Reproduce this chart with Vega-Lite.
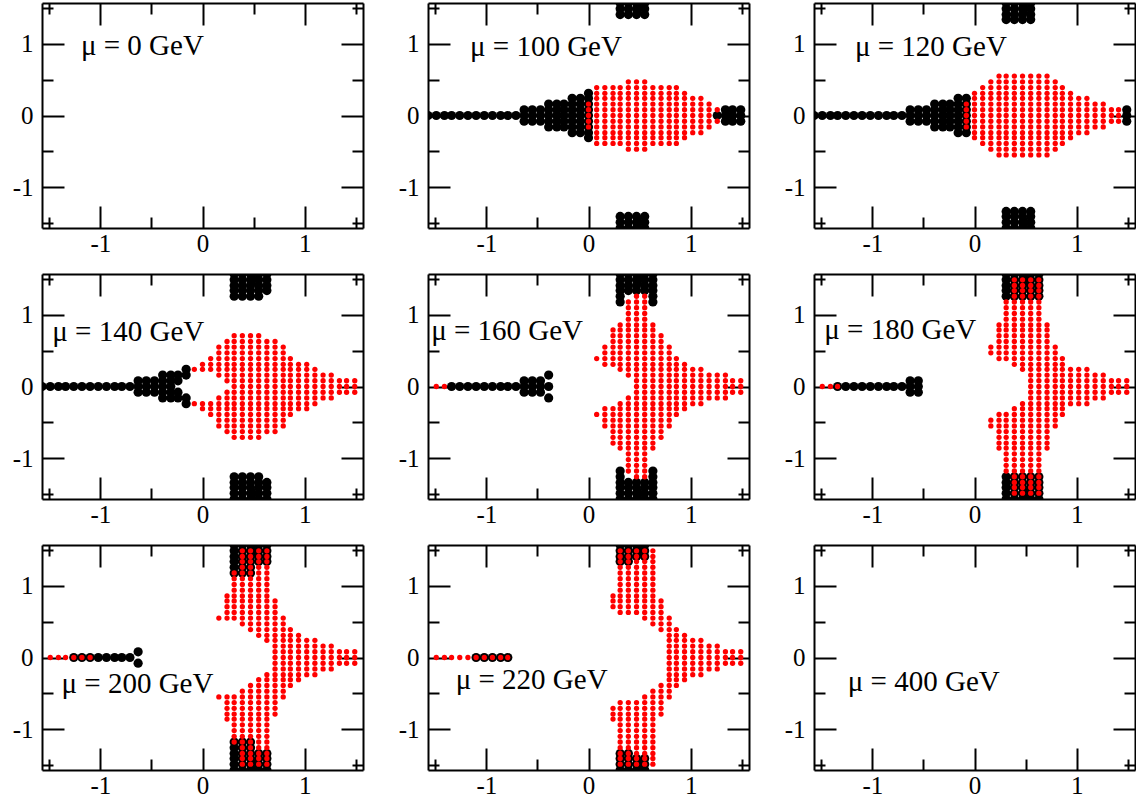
{
"$schema":"https://vega.github.io/schema/vega-lite/v6.json",
"padding":{"left":12,"top":2,"right":0,"bottom":0},
"background":"white",
"config":{"view":{"stroke":null},"axis":{"domainColor":"black","domainWidth":2,"tickColor":"black","tickWidth":2,"tickSize":-22,"grid":false,"labelFont":"Liberation Serif","labelFontSize":25,"labelColor":"black","labelFlush":false,"labelOverlap":false,"labelBound":false}},
"datasets":{
"e":[],
"b100":[{"x":-1.57,"y":0},{"x":-1.49,"y":0},{"x":-1.41,"y":0},{"x":-1.34,"y":0},{"x":-1.26,"y":0},{"x":-1.18,"y":0},{"x":-1.1,"y":0},{"x":-1.02,"y":0},{"x":-0.94,"y":0},{"x":-0.86,"y":0},{"x":-0.79,"y":0},{"x":-0.71,"y":0},
{"x":-0.63,"y":-0.08},{"x":-0.63,"y":0},{"x":-0.63,"y":0.08},{"x":-0.55,"y":-0.08},{"x":-0.55,"y":0},{"x":-0.55,"y":0.08},{"x":-0.47,"y":-0.08},{"x":-0.47,"y":0},{"x":-0.47,"y":0.08},
{"x":-0.39,"y":-0.16},{"x":-0.39,"y":-0.08},{"x":-0.39,"y":0},{"x":-0.39,"y":0.08},{"x":-0.39,"y":0.16},
{"x":-0.31,"y":-0.16},{"x":-0.31,"y":-0.08},{"x":-0.31,"y":0},{"x":-0.31,"y":0.08},{"x":-0.31,"y":0.16},
{"x":-0.24,"y":-0.16},{"x":-0.24,"y":-0.08},{"x":-0.24,"y":0},{"x":-0.24,"y":0.08},{"x":-0.24,"y":0.16},
{"x":-0.16,"y":-0.24},{"x":-0.16,"y":-0.16},{"x":-0.16,"y":-0.08},{"x":-0.16,"y":0},{"x":-0.16,"y":0.08},{"x":-0.16,"y":0.16},{"x":-0.16,"y":0.24},
{"x":-0.08,"y":-0.24},{"x":-0.08,"y":-0.16},{"x":-0.08,"y":-0.08},{"x":-0.08,"y":0},{"x":-0.08,"y":0.08},{"x":-0.08,"y":0.16},{"x":-0.08,"y":0.24},
{"x":0,"y":-0.31},{"x":0,"y":-0.24},{"x":0,"y":-0.16},{"x":0,"y":-0.08},{"x":0,"y":0},{"x":0,"y":0.08},{"x":0,"y":0.16},{"x":0,"y":0.24},{"x":0,"y":0.31},
{"x":1.26,"y":0},{"x":1.34,"y":-0.08},{"x":1.34,"y":0},{"x":1.34,"y":0.08},{"x":1.41,"y":-0.08},{"x":1.41,"y":0},{"x":1.41,"y":0.08},{"x":1.49,"y":-0.08},{"x":1.49,"y":0},{"x":1.49,"y":0.08},
{"x":0.31,"y":1.41},{"x":0.31,"y":1.49},{"x":0.31,"y":1.57},{"x":0.31,"y":-1.41},{"x":0.31,"y":-1.49},{"x":0.31,"y":-1.57},
{"x":0.39,"y":1.41},{"x":0.39,"y":1.49},{"x":0.39,"y":1.57},{"x":0.39,"y":-1.41},{"x":0.39,"y":-1.49},{"x":0.39,"y":-1.57},
{"x":0.47,"y":1.41},{"x":0.47,"y":1.49},{"x":0.47,"y":1.57},{"x":0.47,"y":-1.41},{"x":0.47,"y":-1.49},{"x":0.47,"y":-1.57},
{"x":0.55,"y":1.41},{"x":0.55,"y":1.49},{"x":0.55,"y":1.57},{"x":0.55,"y":-1.41},{"x":0.55,"y":-1.49},{"x":0.55,"y":-1.57}],
"r100":[{"x":0,"y":-0.16},{"x":0,"y":-0.08},{"x":0,"y":0},{"x":0,"y":0.08},{"x":0,"y":0.16},
{"x":0.08,"y":-0.39},{"x":0.08,"y":-0.31},{"x":0.08,"y":-0.24},{"x":0.08,"y":-0.16},{"x":0.08,"y":-0.08},{"x":0.08,"y":0},{"x":0.08,"y":0.08},{"x":0.08,"y":0.16},{"x":0.08,"y":0.24},{"x":0.08,"y":0.31},{"x":0.08,"y":0.39},
{"x":0.16,"y":-0.39},{"x":0.16,"y":-0.31},{"x":0.16,"y":-0.24},{"x":0.16,"y":-0.16},{"x":0.16,"y":-0.08},{"x":0.16,"y":0},{"x":0.16,"y":0.08},{"x":0.16,"y":0.16},{"x":0.16,"y":0.24},{"x":0.16,"y":0.31},{"x":0.16,"y":0.39},
{"x":0.24,"y":-0.39},{"x":0.24,"y":-0.31},{"x":0.24,"y":-0.24},{"x":0.24,"y":-0.16},{"x":0.24,"y":-0.08},{"x":0.24,"y":0},{"x":0.24,"y":0.08},{"x":0.24,"y":0.16},{"x":0.24,"y":0.24},{"x":0.24,"y":0.31},{"x":0.24,"y":0.39},
{"x":0.31,"y":-0.39},{"x":0.31,"y":-0.31},{"x":0.31,"y":-0.24},{"x":0.31,"y":-0.16},{"x":0.31,"y":-0.08},{"x":0.31,"y":0},{"x":0.31,"y":0.08},{"x":0.31,"y":0.16},{"x":0.31,"y":0.24},{"x":0.31,"y":0.31},{"x":0.31,"y":0.39},
{"x":0.39,"y":-0.47},{"x":0.39,"y":-0.39},{"x":0.39,"y":-0.31},{"x":0.39,"y":-0.24},{"x":0.39,"y":-0.16},{"x":0.39,"y":-0.08},{"x":0.39,"y":0},{"x":0.39,"y":0.08},{"x":0.39,"y":0.16},{"x":0.39,"y":0.24},{"x":0.39,"y":0.31},{"x":0.39,"y":0.39},{"x":0.39,"y":0.47},
{"x":0.47,"y":-0.47},{"x":0.47,"y":-0.39},{"x":0.47,"y":-0.31},{"x":0.47,"y":-0.24},{"x":0.47,"y":-0.16},{"x":0.47,"y":-0.08},{"x":0.47,"y":0},{"x":0.47,"y":0.08},{"x":0.47,"y":0.16},{"x":0.47,"y":0.24},{"x":0.47,"y":0.31},{"x":0.47,"y":0.39},{"x":0.47,"y":0.47},
{"x":0.55,"y":-0.47},{"x":0.55,"y":-0.39},{"x":0.55,"y":-0.31},{"x":0.55,"y":-0.24},{"x":0.55,"y":-0.16},{"x":0.55,"y":-0.08},{"x":0.55,"y":0},{"x":0.55,"y":0.08},{"x":0.55,"y":0.16},{"x":0.55,"y":0.24},{"x":0.55,"y":0.31},{"x":0.55,"y":0.39},{"x":0.55,"y":0.47},
{"x":0.63,"y":-0.39},{"x":0.63,"y":-0.31},{"x":0.63,"y":-0.24},{"x":0.63,"y":-0.16},{"x":0.63,"y":-0.08},{"x":0.63,"y":0},{"x":0.63,"y":0.08},{"x":0.63,"y":0.16},{"x":0.63,"y":0.24},{"x":0.63,"y":0.31},{"x":0.63,"y":0.39},
{"x":0.71,"y":-0.39},{"x":0.71,"y":-0.31},{"x":0.71,"y":-0.24},{"x":0.71,"y":-0.16},{"x":0.71,"y":-0.08},{"x":0.71,"y":0},{"x":0.71,"y":0.08},{"x":0.71,"y":0.16},{"x":0.71,"y":0.24},{"x":0.71,"y":0.31},{"x":0.71,"y":0.39},
{"x":0.79,"y":-0.39},{"x":0.79,"y":-0.31},{"x":0.79,"y":-0.24},{"x":0.79,"y":-0.16},{"x":0.79,"y":-0.08},{"x":0.79,"y":0},{"x":0.79,"y":0.08},{"x":0.79,"y":0.16},{"x":0.79,"y":0.24},{"x":0.79,"y":0.31},{"x":0.79,"y":0.39},
{"x":0.86,"y":-0.39},{"x":0.86,"y":-0.31},{"x":0.86,"y":-0.24},{"x":0.86,"y":-0.16},{"x":0.86,"y":-0.08},{"x":0.86,"y":0},{"x":0.86,"y":0.08},{"x":0.86,"y":0.16},{"x":0.86,"y":0.24},{"x":0.86,"y":0.31},{"x":0.86,"y":0.39},
{"x":0.94,"y":-0.31},{"x":0.94,"y":-0.24},{"x":0.94,"y":-0.16},{"x":0.94,"y":-0.08},{"x":0.94,"y":0},{"x":0.94,"y":0.08},{"x":0.94,"y":0.16},{"x":0.94,"y":0.24},{"x":0.94,"y":0.31},
{"x":1.02,"y":-0.24},{"x":1.02,"y":-0.16},{"x":1.02,"y":-0.08},{"x":1.02,"y":0},{"x":1.02,"y":0.08},{"x":1.02,"y":0.16},{"x":1.02,"y":0.24},
{"x":1.1,"y":-0.24},{"x":1.1,"y":-0.16},{"x":1.1,"y":-0.08},{"x":1.1,"y":0},{"x":1.1,"y":0.08},{"x":1.1,"y":0.16},{"x":1.1,"y":0.24},
{"x":1.18,"y":-0.16},{"x":1.18,"y":-0.08},{"x":1.18,"y":0},{"x":1.18,"y":0.08},{"x":1.18,"y":0.16},
{"x":1.26,"y":-0.08},{"x":1.26,"y":0.08}],
"b120":[{"x":-1.57,"y":0},{"x":-1.49,"y":0},{"x":-1.41,"y":0},{"x":-1.34,"y":0},{"x":-1.26,"y":0},{"x":-1.18,"y":0},{"x":-1.1,"y":0},{"x":-1.02,"y":0},{"x":-0.94,"y":0},{"x":-0.86,"y":0},{"x":-0.79,"y":0},{"x":-0.71,"y":0},
{"x":-0.63,"y":-0.08},{"x":-0.63,"y":0},{"x":-0.63,"y":0.08},{"x":-0.55,"y":-0.08},{"x":-0.55,"y":0},{"x":-0.55,"y":0.08},{"x":-0.47,"y":-0.08},{"x":-0.47,"y":0},{"x":-0.47,"y":0.08},
{"x":-0.39,"y":-0.16},{"x":-0.39,"y":-0.08},{"x":-0.39,"y":0},{"x":-0.39,"y":0.08},{"x":-0.39,"y":0.16},
{"x":-0.31,"y":-0.16},{"x":-0.31,"y":-0.08},{"x":-0.31,"y":0},{"x":-0.31,"y":0.08},{"x":-0.31,"y":0.16},
{"x":-0.24,"y":-0.16},{"x":-0.24,"y":-0.08},{"x":-0.24,"y":0},{"x":-0.24,"y":0.08},{"x":-0.24,"y":0.16},
{"x":-0.16,"y":-0.24},{"x":-0.16,"y":-0.16},{"x":-0.16,"y":-0.08},{"x":-0.16,"y":0},{"x":-0.16,"y":0.08},{"x":-0.16,"y":0.16},{"x":-0.16,"y":0.24},
{"x":-0.08,"y":-0.24},{"x":-0.08,"y":-0.16},{"x":-0.08,"y":-0.08},{"x":-0.08,"y":0},{"x":-0.08,"y":0.08},{"x":-0.08,"y":0.16},{"x":-0.08,"y":0.24},
{"x":1.49,"y":-0.08},{"x":1.49,"y":0},{"x":1.49,"y":0.08},
{"x":0.31,"y":1.34},{"x":0.31,"y":1.41},{"x":0.31,"y":1.49},{"x":0.31,"y":1.57},{"x":0.31,"y":-1.34},{"x":0.31,"y":-1.41},{"x":0.31,"y":-1.49},{"x":0.31,"y":-1.57},
{"x":0.39,"y":1.34},{"x":0.39,"y":1.41},{"x":0.39,"y":1.49},{"x":0.39,"y":1.57},{"x":0.39,"y":-1.34},{"x":0.39,"y":-1.41},{"x":0.39,"y":-1.49},{"x":0.39,"y":-1.57},
{"x":0.47,"y":1.34},{"x":0.47,"y":1.41},{"x":0.47,"y":1.49},{"x":0.47,"y":1.57},{"x":0.47,"y":-1.34},{"x":0.47,"y":-1.41},{"x":0.47,"y":-1.49},{"x":0.47,"y":-1.57},
{"x":0.55,"y":1.34},{"x":0.55,"y":1.41},{"x":0.55,"y":1.49},{"x":0.55,"y":1.57},{"x":0.55,"y":-1.34},{"x":0.55,"y":-1.41},{"x":0.55,"y":-1.49},{"x":0.55,"y":-1.57}],
"r120":[{"x":-0.08,"y":-0.16},{"x":-0.08,"y":-0.08},{"x":-0.08,"y":0},{"x":-0.08,"y":0.08},{"x":-0.08,"y":0.16},
{"x":0,"y":-0.31},{"x":0,"y":-0.24},{"x":0,"y":-0.16},{"x":0,"y":-0.08},{"x":0,"y":0},{"x":0,"y":0.08},{"x":0,"y":0.16},{"x":0,"y":0.24},{"x":0,"y":0.31},
{"x":0.08,"y":-0.39},{"x":0.08,"y":-0.31},{"x":0.08,"y":-0.24},{"x":0.08,"y":-0.16},{"x":0.08,"y":-0.08},{"x":0.08,"y":0},{"x":0.08,"y":0.08},{"x":0.08,"y":0.16},{"x":0.08,"y":0.24},{"x":0.08,"y":0.31},{"x":0.08,"y":0.39},
{"x":0.16,"y":-0.47},{"x":0.16,"y":-0.39},{"x":0.16,"y":-0.31},{"x":0.16,"y":-0.24},{"x":0.16,"y":-0.16},{"x":0.16,"y":-0.08},{"x":0.16,"y":0},{"x":0.16,"y":0.08},{"x":0.16,"y":0.16},{"x":0.16,"y":0.24},{"x":0.16,"y":0.31},{"x":0.16,"y":0.39},{"x":0.16,"y":0.47},
{"x":0.24,"y":-0.55},{"x":0.24,"y":-0.47},{"x":0.24,"y":-0.39},{"x":0.24,"y":-0.31},{"x":0.24,"y":-0.24},{"x":0.24,"y":-0.16},{"x":0.24,"y":-0.08},{"x":0.24,"y":0},{"x":0.24,"y":0.08},{"x":0.24,"y":0.16},{"x":0.24,"y":0.24},{"x":0.24,"y":0.31},{"x":0.24,"y":0.39},{"x":0.24,"y":0.47},{"x":0.24,"y":0.55},
{"x":0.31,"y":-0.55},{"x":0.31,"y":-0.47},{"x":0.31,"y":-0.39},{"x":0.31,"y":-0.31},{"x":0.31,"y":-0.24},{"x":0.31,"y":-0.16},{"x":0.31,"y":-0.08},{"x":0.31,"y":0},{"x":0.31,"y":0.08},{"x":0.31,"y":0.16},{"x":0.31,"y":0.24},{"x":0.31,"y":0.31},{"x":0.31,"y":0.39},{"x":0.31,"y":0.47},{"x":0.31,"y":0.55},
{"x":0.39,"y":-0.55},{"x":0.39,"y":-0.47},{"x":0.39,"y":-0.39},{"x":0.39,"y":-0.31},{"x":0.39,"y":-0.24},{"x":0.39,"y":-0.16},{"x":0.39,"y":-0.08},{"x":0.39,"y":0},{"x":0.39,"y":0.08},{"x":0.39,"y":0.16},{"x":0.39,"y":0.24},{"x":0.39,"y":0.31},{"x":0.39,"y":0.39},{"x":0.39,"y":0.47},{"x":0.39,"y":0.55},
{"x":0.47,"y":-0.55},{"x":0.47,"y":-0.47},{"x":0.47,"y":-0.39},{"x":0.47,"y":-0.31},{"x":0.47,"y":-0.24},{"x":0.47,"y":-0.16},{"x":0.47,"y":-0.08},{"x":0.47,"y":0},{"x":0.47,"y":0.08},{"x":0.47,"y":0.16},{"x":0.47,"y":0.24},{"x":0.47,"y":0.31},{"x":0.47,"y":0.39},{"x":0.47,"y":0.47},{"x":0.47,"y":0.55},
{"x":0.55,"y":-0.55},{"x":0.55,"y":-0.47},{"x":0.55,"y":-0.39},{"x":0.55,"y":-0.31},{"x":0.55,"y":-0.24},{"x":0.55,"y":-0.16},{"x":0.55,"y":-0.08},{"x":0.55,"y":0},{"x":0.55,"y":0.08},{"x":0.55,"y":0.16},{"x":0.55,"y":0.24},{"x":0.55,"y":0.31},{"x":0.55,"y":0.39},{"x":0.55,"y":0.47},{"x":0.55,"y":0.55},
{"x":0.63,"y":-0.55},{"x":0.63,"y":-0.47},{"x":0.63,"y":-0.39},{"x":0.63,"y":-0.31},{"x":0.63,"y":-0.24},{"x":0.63,"y":-0.16},{"x":0.63,"y":-0.08},{"x":0.63,"y":0},{"x":0.63,"y":0.08},{"x":0.63,"y":0.16},{"x":0.63,"y":0.24},{"x":0.63,"y":0.31},{"x":0.63,"y":0.39},{"x":0.63,"y":0.47},{"x":0.63,"y":0.55},
{"x":0.71,"y":-0.55},{"x":0.71,"y":-0.47},{"x":0.71,"y":-0.39},{"x":0.71,"y":-0.31},{"x":0.71,"y":-0.24},{"x":0.71,"y":-0.16},{"x":0.71,"y":-0.08},{"x":0.71,"y":0},{"x":0.71,"y":0.08},{"x":0.71,"y":0.16},{"x":0.71,"y":0.24},{"x":0.71,"y":0.31},{"x":0.71,"y":0.39},{"x":0.71,"y":0.47},{"x":0.71,"y":0.55},
{"x":0.79,"y":-0.47},{"x":0.79,"y":-0.39},{"x":0.79,"y":-0.31},{"x":0.79,"y":-0.24},{"x":0.79,"y":-0.16},{"x":0.79,"y":-0.08},{"x":0.79,"y":0},{"x":0.79,"y":0.08},{"x":0.79,"y":0.16},{"x":0.79,"y":0.24},{"x":0.79,"y":0.31},{"x":0.79,"y":0.39},{"x":0.79,"y":0.47},
{"x":0.86,"y":-0.39},{"x":0.86,"y":-0.31},{"x":0.86,"y":-0.24},{"x":0.86,"y":-0.16},{"x":0.86,"y":-0.08},{"x":0.86,"y":0},{"x":0.86,"y":0.08},{"x":0.86,"y":0.16},{"x":0.86,"y":0.24},{"x":0.86,"y":0.31},{"x":0.86,"y":0.39},
{"x":0.94,"y":-0.31},{"x":0.94,"y":-0.24},{"x":0.94,"y":-0.16},{"x":0.94,"y":-0.08},{"x":0.94,"y":0},{"x":0.94,"y":0.08},{"x":0.94,"y":0.16},{"x":0.94,"y":0.24},{"x":0.94,"y":0.31},
{"x":1.02,"y":-0.24},{"x":1.02,"y":-0.16},{"x":1.02,"y":-0.08},{"x":1.02,"y":0},{"x":1.02,"y":0.08},{"x":1.02,"y":0.16},{"x":1.02,"y":0.24},
{"x":1.1,"y":-0.24},{"x":1.1,"y":-0.16},{"x":1.1,"y":-0.08},{"x":1.1,"y":0},{"x":1.1,"y":0.08},{"x":1.1,"y":0.16},{"x":1.1,"y":0.24},
{"x":1.18,"y":-0.16},{"x":1.18,"y":-0.08},{"x":1.18,"y":0},{"x":1.18,"y":0.08},{"x":1.18,"y":0.16},
{"x":1.26,"y":-0.16},{"x":1.26,"y":-0.08},{"x":1.26,"y":0},{"x":1.26,"y":0.08},{"x":1.26,"y":0.16},
{"x":1.34,"y":-0.08},{"x":1.34,"y":0},{"x":1.34,"y":0.08},{"x":1.41,"y":-0.08},{"x":1.41,"y":0},{"x":1.41,"y":0.08}],
"b140":[{"x":-1.57,"y":0},{"x":-1.49,"y":0},{"x":-1.41,"y":0},{"x":-1.34,"y":0},{"x":-1.26,"y":0},{"x":-1.18,"y":0},{"x":-1.1,"y":0},{"x":-1.02,"y":0},{"x":-0.94,"y":0},{"x":-0.86,"y":0},{"x":-0.79,"y":0},{"x":-0.71,"y":0},
{"x":-0.63,"y":-0.08},{"x":-0.63,"y":0},{"x":-0.63,"y":0.08},{"x":-0.55,"y":-0.08},{"x":-0.55,"y":0},{"x":-0.55,"y":0.08},{"x":-0.47,"y":-0.08},{"x":-0.47,"y":0},{"x":-0.47,"y":0.08},
{"x":-0.39,"y":-0.16},{"x":-0.39,"y":-0.08},{"x":-0.39,"y":0},{"x":-0.39,"y":0.08},{"x":-0.39,"y":0.16},
{"x":-0.31,"y":-0.16},{"x":-0.31,"y":-0.08},{"x":-0.31,"y":0},{"x":-0.31,"y":0.08},{"x":-0.31,"y":0.16},
{"x":-0.24,"y":-0.16},{"x":-0.24,"y":-0.08},{"x":-0.24,"y":0.08},{"x":-0.24,"y":0.16},
{"x":-0.16,"y":-0.24},{"x":-0.16,"y":-0.16},{"x":-0.16,"y":0.16},{"x":-0.16,"y":0.24},
{"x":0.31,"y":1.26},{"x":0.31,"y":1.34},{"x":0.31,"y":1.41},{"x":0.31,"y":1.49},{"x":0.31,"y":1.57},{"x":0.31,"y":-1.26},{"x":0.31,"y":-1.34},{"x":0.31,"y":-1.41},{"x":0.31,"y":-1.49},{"x":0.31,"y":-1.57},
{"x":0.39,"y":1.26},{"x":0.39,"y":1.34},{"x":0.39,"y":1.41},{"x":0.39,"y":1.49},{"x":0.39,"y":1.57},{"x":0.39,"y":-1.26},{"x":0.39,"y":-1.34},{"x":0.39,"y":-1.41},{"x":0.39,"y":-1.49},{"x":0.39,"y":-1.57},
{"x":0.47,"y":1.26},{"x":0.47,"y":1.34},{"x":0.47,"y":1.41},{"x":0.47,"y":1.49},{"x":0.47,"y":1.57},{"x":0.47,"y":-1.26},{"x":0.47,"y":-1.34},{"x":0.47,"y":-1.41},{"x":0.47,"y":-1.49},{"x":0.47,"y":-1.57},
{"x":0.55,"y":1.26},{"x":0.55,"y":1.34},{"x":0.55,"y":1.41},{"x":0.55,"y":1.49},{"x":0.55,"y":1.57},{"x":0.55,"y":-1.26},{"x":0.55,"y":-1.34},{"x":0.55,"y":-1.41},{"x":0.55,"y":-1.49},{"x":0.55,"y":-1.57},
{"x":0.63,"y":1.34},{"x":0.63,"y":1.41},{"x":0.63,"y":1.49},{"x":0.63,"y":1.57},{"x":0.63,"y":-1.34},{"x":0.63,"y":-1.41},{"x":0.63,"y":-1.49},{"x":0.63,"y":-1.57}],
"r140":[{"x":-0.08,"y":-0.24},{"x":-0.08,"y":0.24},
{"x":0,"y":-0.31},{"x":0,"y":-0.24},{"x":0,"y":0.24},{"x":0,"y":0.31},
{"x":0.08,"y":-0.39},{"x":0.08,"y":-0.31},{"x":0.08,"y":-0.24},{"x":0.08,"y":0.24},{"x":0.08,"y":0.31},{"x":0.08,"y":0.39},
{"x":0.16,"y":-0.55},{"x":0.16,"y":-0.47},{"x":0.16,"y":-0.39},{"x":0.16,"y":-0.31},{"x":0.16,"y":-0.24},{"x":0.16,"y":-0.16},{"x":0.16,"y":0.16},{"x":0.16,"y":0.24},{"x":0.16,"y":0.31},{"x":0.16,"y":0.39},{"x":0.16,"y":0.47},{"x":0.16,"y":0.55},
{"x":0.24,"y":-0.63},{"x":0.24,"y":-0.55},{"x":0.24,"y":-0.47},{"x":0.24,"y":-0.39},{"x":0.24,"y":-0.31},{"x":0.24,"y":-0.24},{"x":0.24,"y":-0.16},{"x":0.24,"y":-0.08},{"x":0.24,"y":0.08},{"x":0.24,"y":0.16},{"x":0.24,"y":0.24},{"x":0.24,"y":0.31},{"x":0.24,"y":0.39},{"x":0.24,"y":0.47},{"x":0.24,"y":0.55},{"x":0.24,"y":0.63},
{"x":0.31,"y":-0.71},{"x":0.31,"y":-0.63},{"x":0.31,"y":-0.55},{"x":0.31,"y":-0.47},{"x":0.31,"y":-0.39},{"x":0.31,"y":-0.31},{"x":0.31,"y":-0.24},{"x":0.31,"y":-0.16},{"x":0.31,"y":-0.08},{"x":0.31,"y":0},{"x":0.31,"y":0.08},{"x":0.31,"y":0.16},{"x":0.31,"y":0.24},{"x":0.31,"y":0.31},{"x":0.31,"y":0.39},{"x":0.31,"y":0.47},{"x":0.31,"y":0.55},{"x":0.31,"y":0.63},{"x":0.31,"y":0.71},
{"x":0.39,"y":-0.71},{"x":0.39,"y":-0.63},{"x":0.39,"y":-0.55},{"x":0.39,"y":-0.47},{"x":0.39,"y":-0.39},{"x":0.39,"y":-0.31},{"x":0.39,"y":-0.24},{"x":0.39,"y":-0.16},{"x":0.39,"y":-0.08},{"x":0.39,"y":0},{"x":0.39,"y":0.08},{"x":0.39,"y":0.16},{"x":0.39,"y":0.24},{"x":0.39,"y":0.31},{"x":0.39,"y":0.39},{"x":0.39,"y":0.47},{"x":0.39,"y":0.55},{"x":0.39,"y":0.63},{"x":0.39,"y":0.71},
{"x":0.47,"y":-0.71},{"x":0.47,"y":-0.63},{"x":0.47,"y":-0.55},{"x":0.47,"y":-0.47},{"x":0.47,"y":-0.39},{"x":0.47,"y":-0.31},{"x":0.47,"y":-0.24},{"x":0.47,"y":-0.16},{"x":0.47,"y":-0.08},{"x":0.47,"y":0},{"x":0.47,"y":0.08},{"x":0.47,"y":0.16},{"x":0.47,"y":0.24},{"x":0.47,"y":0.31},{"x":0.47,"y":0.39},{"x":0.47,"y":0.47},{"x":0.47,"y":0.55},{"x":0.47,"y":0.63},{"x":0.47,"y":0.71},
{"x":0.55,"y":-0.71},{"x":0.55,"y":-0.63},{"x":0.55,"y":-0.55},{"x":0.55,"y":-0.47},{"x":0.55,"y":-0.39},{"x":0.55,"y":-0.31},{"x":0.55,"y":-0.24},{"x":0.55,"y":-0.16},{"x":0.55,"y":-0.08},{"x":0.55,"y":0},{"x":0.55,"y":0.08},{"x":0.55,"y":0.16},{"x":0.55,"y":0.24},{"x":0.55,"y":0.31},{"x":0.55,"y":0.39},{"x":0.55,"y":0.47},{"x":0.55,"y":0.55},{"x":0.55,"y":0.63},{"x":0.55,"y":0.71},
{"x":0.63,"y":-0.63},{"x":0.63,"y":-0.55},{"x":0.63,"y":-0.47},{"x":0.63,"y":-0.39},{"x":0.63,"y":-0.31},{"x":0.63,"y":-0.24},{"x":0.63,"y":-0.16},{"x":0.63,"y":-0.08},{"x":0.63,"y":0},{"x":0.63,"y":0.08},{"x":0.63,"y":0.16},{"x":0.63,"y":0.24},{"x":0.63,"y":0.31},{"x":0.63,"y":0.39},{"x":0.63,"y":0.47},{"x":0.63,"y":0.55},{"x":0.63,"y":0.63},
{"x":0.71,"y":-0.63},{"x":0.71,"y":-0.55},{"x":0.71,"y":-0.47},{"x":0.71,"y":-0.39},{"x":0.71,"y":-0.31},{"x":0.71,"y":-0.24},{"x":0.71,"y":-0.16},{"x":0.71,"y":-0.08},{"x":0.71,"y":0},{"x":0.71,"y":0.08},{"x":0.71,"y":0.16},{"x":0.71,"y":0.24},{"x":0.71,"y":0.31},{"x":0.71,"y":0.39},{"x":0.71,"y":0.47},{"x":0.71,"y":0.55},{"x":0.71,"y":0.63},
{"x":0.79,"y":-0.55},{"x":0.79,"y":-0.47},{"x":0.79,"y":-0.39},{"x":0.79,"y":-0.31},{"x":0.79,"y":-0.24},{"x":0.79,"y":-0.16},{"x":0.79,"y":-0.08},{"x":0.79,"y":0},{"x":0.79,"y":0.08},{"x":0.79,"y":0.16},{"x":0.79,"y":0.24},{"x":0.79,"y":0.31},{"x":0.79,"y":0.39},{"x":0.79,"y":0.47},{"x":0.79,"y":0.55},
{"x":0.86,"y":-0.39},{"x":0.86,"y":-0.31},{"x":0.86,"y":-0.24},{"x":0.86,"y":-0.16},{"x":0.86,"y":-0.08},{"x":0.86,"y":0},{"x":0.86,"y":0.08},{"x":0.86,"y":0.16},{"x":0.86,"y":0.24},{"x":0.86,"y":0.31},{"x":0.86,"y":0.39},
{"x":0.94,"y":-0.31},{"x":0.94,"y":-0.24},{"x":0.94,"y":-0.16},{"x":0.94,"y":-0.08},{"x":0.94,"y":0},{"x":0.94,"y":0.08},{"x":0.94,"y":0.16},{"x":0.94,"y":0.24},{"x":0.94,"y":0.31},
{"x":1.02,"y":-0.31},{"x":1.02,"y":-0.24},{"x":1.02,"y":-0.16},{"x":1.02,"y":-0.08},{"x":1.02,"y":0},{"x":1.02,"y":0.08},{"x":1.02,"y":0.16},{"x":1.02,"y":0.24},{"x":1.02,"y":0.31},
{"x":1.1,"y":-0.24},{"x":1.1,"y":-0.16},{"x":1.1,"y":-0.08},{"x":1.1,"y":0},{"x":1.1,"y":0.08},{"x":1.1,"y":0.16},{"x":1.1,"y":0.24},
{"x":1.18,"y":-0.16},{"x":1.18,"y":-0.08},{"x":1.18,"y":0},{"x":1.18,"y":0.08},{"x":1.18,"y":0.16},
{"x":1.26,"y":-0.16},{"x":1.26,"y":-0.08},{"x":1.26,"y":0},{"x":1.26,"y":0.08},{"x":1.26,"y":0.16},
{"x":1.34,"y":-0.08},{"x":1.34,"y":0},{"x":1.34,"y":0.08},{"x":1.41,"y":-0.08},{"x":1.41,"y":0},{"x":1.41,"y":0.08},{"x":1.49,"y":-0.08},{"x":1.49,"y":0},{"x":1.49,"y":0.08}],
"b160":[{"x":-1.34,"y":0},{"x":-1.26,"y":0},{"x":-1.18,"y":0},{"x":-1.1,"y":0},{"x":-1.02,"y":0},{"x":-0.94,"y":0},{"x":-0.86,"y":0},{"x":-0.79,"y":0},{"x":-0.71,"y":0},{"x":-0.63,"y":0},{"x":-0.55,"y":0},{"x":-0.47,"y":0},{"x":-0.39,"y":0},
{"x":-0.63,"y":-0.08},{"x":-0.63,"y":0.08},{"x":-0.55,"y":-0.08},{"x":-0.55,"y":0.08},{"x":-0.47,"y":-0.08},{"x":-0.47,"y":0.08},{"x":-0.39,"y":-0.16},{"x":-0.39,"y":0.16},
{"x":0.31,"y":1.18},{"x":0.31,"y":1.26},{"x":0.31,"y":1.34},{"x":0.31,"y":1.41},{"x":0.31,"y":1.49},{"x":0.31,"y":1.57},{"x":0.31,"y":-1.18},{"x":0.31,"y":-1.26},{"x":0.31,"y":-1.34},{"x":0.31,"y":-1.41},{"x":0.31,"y":-1.49},{"x":0.31,"y":-1.57},
{"x":0.63,"y":1.18},{"x":0.63,"y":1.26},{"x":0.63,"y":1.34},{"x":0.63,"y":1.41},{"x":0.63,"y":1.49},{"x":0.63,"y":1.57},{"x":0.63,"y":-1.18},{"x":0.63,"y":-1.26},{"x":0.63,"y":-1.34},{"x":0.63,"y":-1.41},{"x":0.63,"y":-1.49},{"x":0.63,"y":-1.57},
{"x":0.39,"y":1.34},{"x":0.39,"y":1.41},{"x":0.39,"y":1.49},{"x":0.39,"y":1.57},{"x":0.39,"y":-1.34},{"x":0.39,"y":-1.41},{"x":0.39,"y":-1.49},{"x":0.39,"y":-1.57},
{"x":0.47,"y":1.34},{"x":0.47,"y":1.41},{"x":0.47,"y":1.49},{"x":0.47,"y":1.57},{"x":0.47,"y":-1.34},{"x":0.47,"y":-1.41},{"x":0.47,"y":-1.49},{"x":0.47,"y":-1.57},
{"x":0.55,"y":1.34},{"x":0.55,"y":1.41},{"x":0.55,"y":1.49},{"x":0.55,"y":1.57},{"x":0.55,"y":-1.34},{"x":0.55,"y":-1.41},{"x":0.55,"y":-1.49},{"x":0.55,"y":-1.57}],
"r160":[{"x":-1.49,"y":0},{"x":-1.41,"y":0},
{"x":0.08,"y":-0.39},{"x":0.08,"y":0.39},
{"x":0.16,"y":-0.55},{"x":0.16,"y":-0.47},{"x":0.16,"y":-0.39},{"x":0.16,"y":-0.31},{"x":0.16,"y":0.31},{"x":0.16,"y":0.39},{"x":0.16,"y":0.47},{"x":0.16,"y":0.55},
{"x":0.24,"y":-0.79},{"x":0.24,"y":-0.71},{"x":0.24,"y":-0.63},{"x":0.24,"y":-0.55},{"x":0.24,"y":-0.47},{"x":0.24,"y":-0.39},{"x":0.24,"y":-0.31},{"x":0.24,"y":0.31},{"x":0.24,"y":0.39},{"x":0.24,"y":0.47},{"x":0.24,"y":0.55},{"x":0.24,"y":0.63},{"x":0.24,"y":0.71},{"x":0.24,"y":0.79},
{"x":0.31,"y":-0.86},{"x":0.31,"y":-0.79},{"x":0.31,"y":-0.71},{"x":0.31,"y":-0.63},{"x":0.31,"y":-0.55},{"x":0.31,"y":-0.47},{"x":0.31,"y":-0.39},{"x":0.31,"y":-0.31},{"x":0.31,"y":-0.24},{"x":0.31,"y":0.24},{"x":0.31,"y":0.31},{"x":0.31,"y":0.39},{"x":0.31,"y":0.47},{"x":0.31,"y":0.55},{"x":0.31,"y":0.63},{"x":0.31,"y":0.71},{"x":0.31,"y":0.79},{"x":0.31,"y":0.86},
{"x":0.39,"y":-1.18},{"x":0.39,"y":-1.1},{"x":0.39,"y":-1.02},{"x":0.39,"y":-0.94},{"x":0.39,"y":-0.86},{"x":0.39,"y":-0.79},{"x":0.39,"y":-0.71},{"x":0.39,"y":-0.63},{"x":0.39,"y":-0.55},{"x":0.39,"y":-0.47},{"x":0.39,"y":-0.39},{"x":0.39,"y":-0.31},{"x":0.39,"y":-0.24},{"x":0.39,"y":-0.16},{"x":0.39,"y":0.16},{"x":0.39,"y":0.24},{"x":0.39,"y":0.31},{"x":0.39,"y":0.39},{"x":0.39,"y":0.47},{"x":0.39,"y":0.55},{"x":0.39,"y":0.63},{"x":0.39,"y":0.71},{"x":0.39,"y":0.79},{"x":0.39,"y":0.86},{"x":0.39,"y":0.94},{"x":0.39,"y":1.02},{"x":0.39,"y":1.1},{"x":0.39,"y":1.18},
{"x":0.47,"y":-1.26},{"x":0.47,"y":-1.18},{"x":0.47,"y":-1.1},{"x":0.47,"y":-1.02},{"x":0.47,"y":-0.94},{"x":0.47,"y":-0.86},{"x":0.47,"y":-0.79},{"x":0.47,"y":-0.71},{"x":0.47,"y":-0.63},{"x":0.47,"y":-0.55},{"x":0.47,"y":-0.47},{"x":0.47,"y":-0.39},{"x":0.47,"y":-0.31},{"x":0.47,"y":-0.24},{"x":0.47,"y":-0.16},{"x":0.47,"y":-0.08},{"x":0.47,"y":0},{"x":0.47,"y":0.08},{"x":0.47,"y":0.16},{"x":0.47,"y":0.24},{"x":0.47,"y":0.31},{"x":0.47,"y":0.39},{"x":0.47,"y":0.47},{"x":0.47,"y":0.55},{"x":0.47,"y":0.63},{"x":0.47,"y":0.71},{"x":0.47,"y":0.79},{"x":0.47,"y":0.86},{"x":0.47,"y":0.94},{"x":0.47,"y":1.02},{"x":0.47,"y":1.1},{"x":0.47,"y":1.18},{"x":0.47,"y":1.26},
{"x":0.55,"y":-1.26},{"x":0.55,"y":-1.18},{"x":0.55,"y":-1.1},{"x":0.55,"y":-1.02},{"x":0.55,"y":-0.94},{"x":0.55,"y":-0.86},{"x":0.55,"y":-0.79},{"x":0.55,"y":-0.71},{"x":0.55,"y":-0.63},{"x":0.55,"y":-0.55},{"x":0.55,"y":-0.47},{"x":0.55,"y":-0.39},{"x":0.55,"y":-0.31},{"x":0.55,"y":-0.24},{"x":0.55,"y":-0.16},{"x":0.55,"y":-0.08},{"x":0.55,"y":0},{"x":0.55,"y":0.08},{"x":0.55,"y":0.16},{"x":0.55,"y":0.24},{"x":0.55,"y":0.31},{"x":0.55,"y":0.39},{"x":0.55,"y":0.47},{"x":0.55,"y":0.55},{"x":0.55,"y":0.63},{"x":0.55,"y":0.71},{"x":0.55,"y":0.79},{"x":0.55,"y":0.86},{"x":0.55,"y":0.94},{"x":0.55,"y":1.02},{"x":0.55,"y":1.1},{"x":0.55,"y":1.18},{"x":0.55,"y":1.26},
{"x":0.63,"y":-0.86},{"x":0.63,"y":-0.79},{"x":0.63,"y":-0.71},{"x":0.63,"y":-0.63},{"x":0.63,"y":-0.55},{"x":0.63,"y":-0.47},{"x":0.63,"y":-0.39},{"x":0.63,"y":-0.31},{"x":0.63,"y":-0.24},{"x":0.63,"y":-0.16},{"x":0.63,"y":-0.08},{"x":0.63,"y":0},{"x":0.63,"y":0.08},{"x":0.63,"y":0.16},{"x":0.63,"y":0.24},{"x":0.63,"y":0.31},{"x":0.63,"y":0.39},{"x":0.63,"y":0.47},{"x":0.63,"y":0.55},{"x":0.63,"y":0.63},{"x":0.63,"y":0.71},{"x":0.63,"y":0.79},{"x":0.63,"y":0.86},
{"x":0.71,"y":-0.71},{"x":0.71,"y":-0.63},{"x":0.71,"y":-0.55},{"x":0.71,"y":-0.47},{"x":0.71,"y":-0.39},{"x":0.71,"y":-0.31},{"x":0.71,"y":-0.24},{"x":0.71,"y":-0.16},{"x":0.71,"y":-0.08},{"x":0.71,"y":0},{"x":0.71,"y":0.08},{"x":0.71,"y":0.16},{"x":0.71,"y":0.24},{"x":0.71,"y":0.31},{"x":0.71,"y":0.39},{"x":0.71,"y":0.47},{"x":0.71,"y":0.55},{"x":0.71,"y":0.63},{"x":0.71,"y":0.71},
{"x":0.79,"y":-0.55},{"x":0.79,"y":-0.47},{"x":0.79,"y":-0.39},{"x":0.79,"y":-0.31},{"x":0.79,"y":-0.24},{"x":0.79,"y":-0.16},{"x":0.79,"y":-0.08},{"x":0.79,"y":0},{"x":0.79,"y":0.08},{"x":0.79,"y":0.16},{"x":0.79,"y":0.24},{"x":0.79,"y":0.31},{"x":0.79,"y":0.39},{"x":0.79,"y":0.47},{"x":0.79,"y":0.55},
{"x":0.86,"y":-0.39},{"x":0.86,"y":-0.31},{"x":0.86,"y":-0.24},{"x":0.86,"y":-0.16},{"x":0.86,"y":-0.08},{"x":0.86,"y":0},{"x":0.86,"y":0.08},{"x":0.86,"y":0.16},{"x":0.86,"y":0.24},{"x":0.86,"y":0.31},{"x":0.86,"y":0.39},
{"x":0.94,"y":-0.31},{"x":0.94,"y":-0.24},{"x":0.94,"y":-0.16},{"x":0.94,"y":-0.08},{"x":0.94,"y":0},{"x":0.94,"y":0.08},{"x":0.94,"y":0.16},{"x":0.94,"y":0.24},{"x":0.94,"y":0.31},
{"x":1.02,"y":-0.24},{"x":1.02,"y":-0.16},{"x":1.02,"y":-0.08},{"x":1.02,"y":0},{"x":1.02,"y":0.08},{"x":1.02,"y":0.16},{"x":1.02,"y":0.24},
{"x":1.1,"y":-0.24},{"x":1.1,"y":-0.16},{"x":1.1,"y":-0.08},{"x":1.1,"y":0},{"x":1.1,"y":0.08},{"x":1.1,"y":0.16},{"x":1.1,"y":0.24},
{"x":1.18,"y":-0.16},{"x":1.18,"y":-0.08},{"x":1.18,"y":0},{"x":1.18,"y":0.08},{"x":1.18,"y":0.16},
{"x":1.26,"y":-0.16},{"x":1.26,"y":-0.08},{"x":1.26,"y":0},{"x":1.26,"y":0.08},{"x":1.26,"y":0.16},
{"x":1.34,"y":-0.16},{"x":1.34,"y":-0.08},{"x":1.34,"y":0},{"x":1.34,"y":0.08},{"x":1.34,"y":0.16},
{"x":1.41,"y":-0.08},{"x":1.41,"y":0},{"x":1.41,"y":0.08},{"x":1.49,"y":-0.08},{"x":1.49,"y":0},{"x":1.49,"y":0.08}],
"b180":[{"x":-1.34,"y":0},{"x":-1.26,"y":0},{"x":-1.18,"y":0},{"x":-1.1,"y":0},{"x":-1.02,"y":0},{"x":-0.94,"y":0},{"x":-0.86,"y":0},{"x":-0.79,"y":0},{"x":-0.71,"y":0},{"x":-0.63,"y":0},{"x":-0.55,"y":0},
{"x":-0.63,"y":-0.08},{"x":-0.63,"y":0.08},{"x":-0.55,"y":-0.08},{"x":-0.55,"y":0.08},
{"x":0.31,"y":1.26},{"x":0.31,"y":1.34},{"x":0.31,"y":1.41},{"x":0.31,"y":1.49},{"x":0.31,"y":1.57},{"x":0.31,"y":-1.26},{"x":0.31,"y":-1.34},{"x":0.31,"y":-1.41},{"x":0.31,"y":-1.49},{"x":0.31,"y":-1.57},
{"x":0.39,"y":1.26},{"x":0.39,"y":1.34},{"x":0.39,"y":1.41},{"x":0.39,"y":1.49},{"x":0.39,"y":1.57},{"x":0.39,"y":-1.26},{"x":0.39,"y":-1.34},{"x":0.39,"y":-1.41},{"x":0.39,"y":-1.49},{"x":0.39,"y":-1.57},
{"x":0.47,"y":1.26},{"x":0.47,"y":1.34},{"x":0.47,"y":1.41},{"x":0.47,"y":1.49},{"x":0.47,"y":1.57},{"x":0.47,"y":-1.26},{"x":0.47,"y":-1.34},{"x":0.47,"y":-1.41},{"x":0.47,"y":-1.49},{"x":0.47,"y":-1.57},
{"x":0.55,"y":1.26},{"x":0.55,"y":1.34},{"x":0.55,"y":1.41},{"x":0.55,"y":1.49},{"x":0.55,"y":1.57},{"x":0.55,"y":-1.26},{"x":0.55,"y":-1.34},{"x":0.55,"y":-1.41},{"x":0.55,"y":-1.49},{"x":0.55,"y":-1.57},
{"x":0.63,"y":1.26},{"x":0.63,"y":1.34},{"x":0.63,"y":1.41},{"x":0.63,"y":1.49},{"x":0.63,"y":1.57},{"x":0.63,"y":-1.26},{"x":0.63,"y":-1.34},{"x":0.63,"y":-1.41},{"x":0.63,"y":-1.49},{"x":0.63,"y":-1.57}],
"r180":[{"x":-1.49,"y":0},{"x":-1.41,"y":0},{"x":-1.34,"y":0},
{"x":0.16,"y":-0.55},{"x":0.16,"y":-0.47},{"x":0.16,"y":0.47},{"x":0.16,"y":0.55},
{"x":0.24,"y":-0.86},{"x":0.24,"y":-0.79},{"x":0.24,"y":-0.71},{"x":0.24,"y":-0.63},{"x":0.24,"y":-0.55},{"x":0.24,"y":-0.47},{"x":0.24,"y":-0.39},{"x":0.24,"y":0.39},{"x":0.24,"y":0.47},{"x":0.24,"y":0.55},{"x":0.24,"y":0.63},{"x":0.24,"y":0.71},{"x":0.24,"y":0.79},{"x":0.24,"y":0.86},
{"x":0.31,"y":-1.18},{"x":0.31,"y":-1.1},{"x":0.31,"y":-1.02},{"x":0.31,"y":-0.94},{"x":0.31,"y":-0.86},{"x":0.31,"y":-0.79},{"x":0.31,"y":-0.71},{"x":0.31,"y":-0.63},{"x":0.31,"y":-0.55},{"x":0.31,"y":-0.47},{"x":0.31,"y":-0.39},{"x":0.31,"y":0.39},{"x":0.31,"y":0.47},{"x":0.31,"y":0.55},{"x":0.31,"y":0.63},{"x":0.31,"y":0.71},{"x":0.31,"y":0.79},{"x":0.31,"y":0.86},{"x":0.31,"y":0.94},{"x":0.31,"y":1.02},{"x":0.31,"y":1.1},{"x":0.31,"y":1.18},
{"x":0.39,"y":-1.49},{"x":0.39,"y":-1.41},{"x":0.39,"y":-1.34},{"x":0.39,"y":-1.26},{"x":0.39,"y":-1.18},{"x":0.39,"y":-1.1},{"x":0.39,"y":-1.02},{"x":0.39,"y":-0.94},{"x":0.39,"y":-0.86},{"x":0.39,"y":-0.79},{"x":0.39,"y":-0.71},{"x":0.39,"y":-0.63},{"x":0.39,"y":-0.55},{"x":0.39,"y":-0.47},{"x":0.39,"y":-0.39},{"x":0.39,"y":-0.31},{"x":0.39,"y":0.31},{"x":0.39,"y":0.39},{"x":0.39,"y":0.47},{"x":0.39,"y":0.55},{"x":0.39,"y":0.63},{"x":0.39,"y":0.71},{"x":0.39,"y":0.79},{"x":0.39,"y":0.86},{"x":0.39,"y":0.94},{"x":0.39,"y":1.02},{"x":0.39,"y":1.1},{"x":0.39,"y":1.18},{"x":0.39,"y":1.26},{"x":0.39,"y":1.34},{"x":0.39,"y":1.41},{"x":0.39,"y":1.49},
{"x":0.47,"y":-1.49},{"x":0.47,"y":-1.41},{"x":0.47,"y":-1.34},{"x":0.47,"y":-1.26},{"x":0.47,"y":-1.18},{"x":0.47,"y":-1.1},{"x":0.47,"y":-1.02},{"x":0.47,"y":-0.94},{"x":0.47,"y":-0.86},{"x":0.47,"y":-0.79},{"x":0.47,"y":-0.71},{"x":0.47,"y":-0.63},{"x":0.47,"y":-0.55},{"x":0.47,"y":-0.47},{"x":0.47,"y":-0.39},{"x":0.47,"y":-0.31},{"x":0.47,"y":-0.24},{"x":0.47,"y":0.24},{"x":0.47,"y":0.31},{"x":0.47,"y":0.39},{"x":0.47,"y":0.47},{"x":0.47,"y":0.55},{"x":0.47,"y":0.63},{"x":0.47,"y":0.71},{"x":0.47,"y":0.79},{"x":0.47,"y":0.86},{"x":0.47,"y":0.94},{"x":0.47,"y":1.02},{"x":0.47,"y":1.1},{"x":0.47,"y":1.18},{"x":0.47,"y":1.26},{"x":0.47,"y":1.34},{"x":0.47,"y":1.41},{"x":0.47,"y":1.49},
{"x":0.55,"y":-1.49},{"x":0.55,"y":-1.41},{"x":0.55,"y":-1.34},{"x":0.55,"y":-1.26},{"x":0.55,"y":-1.18},{"x":0.55,"y":-1.1},{"x":0.55,"y":-1.02},{"x":0.55,"y":-0.94},{"x":0.55,"y":-0.86},{"x":0.55,"y":-0.79},{"x":0.55,"y":-0.71},{"x":0.55,"y":-0.63},{"x":0.55,"y":-0.55},{"x":0.55,"y":-0.47},{"x":0.55,"y":-0.39},{"x":0.55,"y":-0.31},{"x":0.55,"y":-0.24},{"x":0.55,"y":-0.16},{"x":0.55,"y":-0.08},{"x":0.55,"y":0},{"x":0.55,"y":0.08},{"x":0.55,"y":0.16},{"x":0.55,"y":0.24},{"x":0.55,"y":0.31},{"x":0.55,"y":0.39},{"x":0.55,"y":0.47},{"x":0.55,"y":0.55},{"x":0.55,"y":0.63},{"x":0.55,"y":0.71},{"x":0.55,"y":0.79},{"x":0.55,"y":0.86},{"x":0.55,"y":0.94},{"x":0.55,"y":1.02},{"x":0.55,"y":1.1},{"x":0.55,"y":1.18},{"x":0.55,"y":1.26},{"x":0.55,"y":1.34},{"x":0.55,"y":1.41},{"x":0.55,"y":1.49},
{"x":0.63,"y":-1.49},{"x":0.63,"y":-1.41},{"x":0.63,"y":-1.34},{"x":0.63,"y":-1.26},{"x":0.63,"y":-1.18},{"x":0.63,"y":-1.1},{"x":0.63,"y":-1.02},{"x":0.63,"y":-0.94},{"x":0.63,"y":-0.86},{"x":0.63,"y":-0.79},{"x":0.63,"y":-0.71},{"x":0.63,"y":-0.63},{"x":0.63,"y":-0.55},{"x":0.63,"y":-0.47},{"x":0.63,"y":-0.39},{"x":0.63,"y":-0.31},{"x":0.63,"y":-0.24},{"x":0.63,"y":-0.16},{"x":0.63,"y":-0.08},{"x":0.63,"y":0},{"x":0.63,"y":0.08},{"x":0.63,"y":0.16},{"x":0.63,"y":0.24},{"x":0.63,"y":0.31},{"x":0.63,"y":0.39},{"x":0.63,"y":0.47},{"x":0.63,"y":0.55},{"x":0.63,"y":0.63},{"x":0.63,"y":0.71},{"x":0.63,"y":0.79},{"x":0.63,"y":0.86},{"x":0.63,"y":0.94},{"x":0.63,"y":1.02},{"x":0.63,"y":1.1},{"x":0.63,"y":1.18},{"x":0.63,"y":1.26},{"x":0.63,"y":1.34},{"x":0.63,"y":1.41},{"x":0.63,"y":1.49},
{"x":0.71,"y":-0.86},{"x":0.71,"y":-0.79},{"x":0.71,"y":-0.71},{"x":0.71,"y":-0.63},{"x":0.71,"y":-0.55},{"x":0.71,"y":-0.47},{"x":0.71,"y":-0.39},{"x":0.71,"y":-0.31},{"x":0.71,"y":-0.24},{"x":0.71,"y":-0.16},{"x":0.71,"y":-0.08},{"x":0.71,"y":0},{"x":0.71,"y":0.08},{"x":0.71,"y":0.16},{"x":0.71,"y":0.24},{"x":0.71,"y":0.31},{"x":0.71,"y":0.39},{"x":0.71,"y":0.47},{"x":0.71,"y":0.55},{"x":0.71,"y":0.63},{"x":0.71,"y":0.71},{"x":0.71,"y":0.79},{"x":0.71,"y":0.86},
{"x":0.79,"y":-0.55},{"x":0.79,"y":-0.47},{"x":0.79,"y":-0.39},{"x":0.79,"y":-0.31},{"x":0.79,"y":-0.24},{"x":0.79,"y":-0.16},{"x":0.79,"y":-0.08},{"x":0.79,"y":0},{"x":0.79,"y":0.08},{"x":0.79,"y":0.16},{"x":0.79,"y":0.24},{"x":0.79,"y":0.31},{"x":0.79,"y":0.39},{"x":0.79,"y":0.47},{"x":0.79,"y":0.55},
{"x":0.86,"y":-0.39},{"x":0.86,"y":-0.31},{"x":0.86,"y":-0.24},{"x":0.86,"y":-0.16},{"x":0.86,"y":-0.08},{"x":0.86,"y":0},{"x":0.86,"y":0.08},{"x":0.86,"y":0.16},{"x":0.86,"y":0.24},{"x":0.86,"y":0.31},{"x":0.86,"y":0.39},
{"x":0.94,"y":-0.24},{"x":0.94,"y":-0.16},{"x":0.94,"y":-0.08},{"x":0.94,"y":0},{"x":0.94,"y":0.08},{"x":0.94,"y":0.16},{"x":0.94,"y":0.24},
{"x":1.02,"y":-0.24},{"x":1.02,"y":-0.16},{"x":1.02,"y":-0.08},{"x":1.02,"y":0},{"x":1.02,"y":0.08},{"x":1.02,"y":0.16},{"x":1.02,"y":0.24},
{"x":1.1,"y":-0.24},{"x":1.1,"y":-0.16},{"x":1.1,"y":-0.08},{"x":1.1,"y":0},{"x":1.1,"y":0.08},{"x":1.1,"y":0.16},{"x":1.1,"y":0.24},
{"x":1.18,"y":-0.16},{"x":1.18,"y":-0.08},{"x":1.18,"y":0},{"x":1.18,"y":0.08},{"x":1.18,"y":0.16},
{"x":1.26,"y":-0.16},{"x":1.26,"y":-0.08},{"x":1.26,"y":0},{"x":1.26,"y":0.08},{"x":1.26,"y":0.16},
{"x":1.34,"y":-0.08},{"x":1.34,"y":0},{"x":1.34,"y":0.08},{"x":1.41,"y":-0.08},{"x":1.41,"y":0},{"x":1.41,"y":0.08},{"x":1.49,"y":-0.08},{"x":1.49,"y":0},{"x":1.49,"y":0.08}],
"b200":[{"x":-1.26,"y":0},{"x":-1.18,"y":0},{"x":-1.1,"y":0},{"x":-1.02,"y":0},{"x":-0.94,"y":0},{"x":-0.86,"y":0},{"x":-0.79,"y":0},{"x":-0.71,"y":0},
{"x":-0.63,"y":-0.08},{"x":-0.63,"y":0.08},
{"x":0.31,"y":1.18},{"x":0.31,"y":1.26},{"x":0.31,"y":1.34},{"x":0.31,"y":1.41},{"x":0.31,"y":1.49},{"x":0.31,"y":1.57},{"x":0.31,"y":-1.18},{"x":0.31,"y":-1.26},{"x":0.31,"y":-1.34},{"x":0.31,"y":-1.41},{"x":0.31,"y":-1.49},{"x":0.31,"y":-1.57},
{"x":0.39,"y":1.18},{"x":0.39,"y":1.26},{"x":0.39,"y":1.34},{"x":0.39,"y":1.41},{"x":0.39,"y":1.49},{"x":0.39,"y":1.57},{"x":0.39,"y":-1.18},{"x":0.39,"y":-1.26},{"x":0.39,"y":-1.34},{"x":0.39,"y":-1.41},{"x":0.39,"y":-1.49},{"x":0.39,"y":-1.57},
{"x":0.47,"y":1.18},{"x":0.47,"y":1.26},{"x":0.47,"y":1.34},{"x":0.47,"y":1.41},{"x":0.47,"y":1.49},{"x":0.47,"y":1.57},{"x":0.47,"y":-1.18},{"x":0.47,"y":-1.26},{"x":0.47,"y":-1.34},{"x":0.47,"y":-1.41},{"x":0.47,"y":-1.49},{"x":0.47,"y":-1.57},
{"x":0.55,"y":1.34},{"x":0.55,"y":1.41},{"x":0.55,"y":1.49},{"x":0.55,"y":1.57},{"x":0.55,"y":-1.34},{"x":0.55,"y":-1.41},{"x":0.55,"y":-1.49},{"x":0.55,"y":-1.57},
{"x":0.63,"y":1.34},{"x":0.63,"y":1.41},{"x":0.63,"y":1.49},{"x":0.63,"y":1.57},{"x":0.63,"y":-1.34},{"x":0.63,"y":-1.41},{"x":0.63,"y":-1.49},{"x":0.63,"y":-1.57}],
"r200":[{"x":-1.49,"y":0},{"x":-1.41,"y":0},{"x":-1.34,"y":0},{"x":-1.26,"y":0},{"x":-1.18,"y":0},{"x":-1.1,"y":0},
{"x":0.16,"y":-0.55},{"x":0.16,"y":0.55},
{"x":0.24,"y":-0.86},{"x":0.24,"y":-0.79},{"x":0.24,"y":-0.71},{"x":0.24,"y":-0.63},{"x":0.24,"y":-0.55},{"x":0.24,"y":0.55},{"x":0.24,"y":0.63},{"x":0.24,"y":0.71},{"x":0.24,"y":0.79},{"x":0.24,"y":0.86},
{"x":0.31,"y":-1.18},{"x":0.31,"y":-1.1},{"x":0.31,"y":-1.02},{"x":0.31,"y":-0.94},{"x":0.31,"y":-0.86},{"x":0.31,"y":-0.79},{"x":0.31,"y":-0.71},{"x":0.31,"y":-0.63},{"x":0.31,"y":-0.55},{"x":0.31,"y":0.55},{"x":0.31,"y":0.63},{"x":0.31,"y":0.71},{"x":0.31,"y":0.79},{"x":0.31,"y":0.86},{"x":0.31,"y":0.94},{"x":0.31,"y":1.02},{"x":0.31,"y":1.1},{"x":0.31,"y":1.18},
{"x":0.39,"y":-1.49},{"x":0.39,"y":-1.41},{"x":0.39,"y":-1.34},{"x":0.39,"y":-1.26},{"x":0.39,"y":-1.18},{"x":0.39,"y":-1.1},{"x":0.39,"y":-1.02},{"x":0.39,"y":-0.94},{"x":0.39,"y":-0.86},{"x":0.39,"y":-0.79},{"x":0.39,"y":-0.71},{"x":0.39,"y":-0.63},{"x":0.39,"y":-0.55},{"x":0.39,"y":-0.47},{"x":0.39,"y":0.47},{"x":0.39,"y":0.55},{"x":0.39,"y":0.63},{"x":0.39,"y":0.71},{"x":0.39,"y":0.79},{"x":0.39,"y":0.86},{"x":0.39,"y":0.94},{"x":0.39,"y":1.02},{"x":0.39,"y":1.1},{"x":0.39,"y":1.18},{"x":0.39,"y":1.26},{"x":0.39,"y":1.34},{"x":0.39,"y":1.41},{"x":0.39,"y":1.49},
{"x":0.47,"y":-1.49},{"x":0.47,"y":-1.41},{"x":0.47,"y":-1.34},{"x":0.47,"y":-1.26},{"x":0.47,"y":-1.18},{"x":0.47,"y":-1.1},{"x":0.47,"y":-1.02},{"x":0.47,"y":-0.94},{"x":0.47,"y":-0.86},{"x":0.47,"y":-0.79},{"x":0.47,"y":-0.71},{"x":0.47,"y":-0.63},{"x":0.47,"y":-0.55},{"x":0.47,"y":-0.47},{"x":0.47,"y":-0.39},{"x":0.47,"y":0.39},{"x":0.47,"y":0.47},{"x":0.47,"y":0.55},{"x":0.47,"y":0.63},{"x":0.47,"y":0.71},{"x":0.47,"y":0.79},{"x":0.47,"y":0.86},{"x":0.47,"y":0.94},{"x":0.47,"y":1.02},{"x":0.47,"y":1.1},{"x":0.47,"y":1.18},{"x":0.47,"y":1.26},{"x":0.47,"y":1.34},{"x":0.47,"y":1.41},{"x":0.47,"y":1.49},
{"x":0.55,"y":-1.49},{"x":0.55,"y":-1.41},{"x":0.55,"y":-1.34},{"x":0.55,"y":-1.26},{"x":0.55,"y":-1.18},{"x":0.55,"y":-1.1},{"x":0.55,"y":-1.02},{"x":0.55,"y":-0.94},{"x":0.55,"y":-0.86},{"x":0.55,"y":-0.79},{"x":0.55,"y":-0.71},{"x":0.55,"y":-0.63},{"x":0.55,"y":-0.55},{"x":0.55,"y":-0.47},{"x":0.55,"y":-0.39},{"x":0.55,"y":-0.31},{"x":0.55,"y":0.31},{"x":0.55,"y":0.39},{"x":0.55,"y":0.47},{"x":0.55,"y":0.55},{"x":0.55,"y":0.63},{"x":0.55,"y":0.71},{"x":0.55,"y":0.79},{"x":0.55,"y":0.86},{"x":0.55,"y":0.94},{"x":0.55,"y":1.02},{"x":0.55,"y":1.1},{"x":0.55,"y":1.18},{"x":0.55,"y":1.26},{"x":0.55,"y":1.34},{"x":0.55,"y":1.41},{"x":0.55,"y":1.49},
{"x":0.63,"y":-1.49},{"x":0.63,"y":-1.41},{"x":0.63,"y":-1.34},{"x":0.63,"y":-1.26},{"x":0.63,"y":-1.18},{"x":0.63,"y":-1.1},{"x":0.63,"y":-1.02},{"x":0.63,"y":-0.94},{"x":0.63,"y":-0.86},{"x":0.63,"y":-0.79},{"x":0.63,"y":-0.71},{"x":0.63,"y":-0.63},{"x":0.63,"y":-0.55},{"x":0.63,"y":-0.47},{"x":0.63,"y":-0.39},{"x":0.63,"y":-0.31},{"x":0.63,"y":-0.24},{"x":0.63,"y":0.24},{"x":0.63,"y":0.31},{"x":0.63,"y":0.39},{"x":0.63,"y":0.47},{"x":0.63,"y":0.55},{"x":0.63,"y":0.63},{"x":0.63,"y":0.71},{"x":0.63,"y":0.79},{"x":0.63,"y":0.86},{"x":0.63,"y":0.94},{"x":0.63,"y":1.02},{"x":0.63,"y":1.1},{"x":0.63,"y":1.18},{"x":0.63,"y":1.26},{"x":0.63,"y":1.34},{"x":0.63,"y":1.41},{"x":0.63,"y":1.49},
{"x":0.71,"y":-0.79},{"x":0.71,"y":-0.71},{"x":0.71,"y":-0.63},{"x":0.71,"y":-0.55},{"x":0.71,"y":-0.47},{"x":0.71,"y":-0.39},{"x":0.71,"y":-0.31},{"x":0.71,"y":-0.24},{"x":0.71,"y":-0.16},{"x":0.71,"y":-0.08},{"x":0.71,"y":0},{"x":0.71,"y":0.08},{"x":0.71,"y":0.16},{"x":0.71,"y":0.24},{"x":0.71,"y":0.31},{"x":0.71,"y":0.39},{"x":0.71,"y":0.47},{"x":0.71,"y":0.55},{"x":0.71,"y":0.63},{"x":0.71,"y":0.71},{"x":0.71,"y":0.79},
{"x":0.79,"y":-0.55},{"x":0.79,"y":-0.47},{"x":0.79,"y":-0.39},{"x":0.79,"y":-0.31},{"x":0.79,"y":-0.24},{"x":0.79,"y":-0.16},{"x":0.79,"y":-0.08},{"x":0.79,"y":0},{"x":0.79,"y":0.08},{"x":0.79,"y":0.16},{"x":0.79,"y":0.24},{"x":0.79,"y":0.31},{"x":0.79,"y":0.39},{"x":0.79,"y":0.47},{"x":0.79,"y":0.55},
{"x":0.86,"y":-0.39},{"x":0.86,"y":-0.31},{"x":0.86,"y":-0.24},{"x":0.86,"y":-0.16},{"x":0.86,"y":-0.08},{"x":0.86,"y":0},{"x":0.86,"y":0.08},{"x":0.86,"y":0.16},{"x":0.86,"y":0.24},{"x":0.86,"y":0.31},{"x":0.86,"y":0.39},
{"x":0.94,"y":-0.31},{"x":0.94,"y":-0.24},{"x":0.94,"y":-0.16},{"x":0.94,"y":-0.08},{"x":0.94,"y":0},{"x":0.94,"y":0.08},{"x":0.94,"y":0.16},{"x":0.94,"y":0.24},{"x":0.94,"y":0.31},
{"x":1.02,"y":-0.24},{"x":1.02,"y":-0.16},{"x":1.02,"y":-0.08},{"x":1.02,"y":0},{"x":1.02,"y":0.08},{"x":1.02,"y":0.16},{"x":1.02,"y":0.24},
{"x":1.1,"y":-0.24},{"x":1.1,"y":-0.16},{"x":1.1,"y":-0.08},{"x":1.1,"y":0},{"x":1.1,"y":0.08},{"x":1.1,"y":0.16},{"x":1.1,"y":0.24},
{"x":1.18,"y":-0.16},{"x":1.18,"y":-0.08},{"x":1.18,"y":0},{"x":1.18,"y":0.08},{"x":1.18,"y":0.16},
{"x":1.26,"y":-0.16},{"x":1.26,"y":-0.08},{"x":1.26,"y":0},{"x":1.26,"y":0.08},{"x":1.26,"y":0.16},
{"x":1.34,"y":-0.08},{"x":1.34,"y":0},{"x":1.34,"y":0.08},{"x":1.41,"y":-0.08},{"x":1.41,"y":0},{"x":1.41,"y":0.08},{"x":1.49,"y":-0.08},{"x":1.49,"y":0},{"x":1.49,"y":0.08}],
"b220":[{"x":-1.1,"y":0},{"x":-1.02,"y":0},{"x":-0.94,"y":0},{"x":-0.86,"y":0},{"x":-0.79,"y":0},
{"x":0.31,"y":1.34},{"x":0.31,"y":1.41},{"x":0.31,"y":1.49},{"x":0.31,"y":1.57},{"x":0.31,"y":-1.34},{"x":0.31,"y":-1.41},{"x":0.31,"y":-1.49},{"x":0.31,"y":-1.57},
{"x":0.39,"y":1.34},{"x":0.39,"y":1.41},{"x":0.39,"y":1.49},{"x":0.39,"y":1.57},{"x":0.39,"y":-1.34},{"x":0.39,"y":-1.41},{"x":0.39,"y":-1.49},{"x":0.39,"y":-1.57},
{"x":0.47,"y":1.41},{"x":0.47,"y":1.49},{"x":0.47,"y":1.57},{"x":0.47,"y":-1.41},{"x":0.47,"y":-1.49},{"x":0.47,"y":-1.57},
{"x":0.55,"y":1.41},{"x":0.55,"y":1.49},{"x":0.55,"y":1.57},{"x":0.55,"y":-1.41},{"x":0.55,"y":-1.49},{"x":0.55,"y":-1.57}],
"r220":[{"x":-1.49,"y":0},{"x":-1.41,"y":0},{"x":-1.34,"y":0},{"x":-1.26,"y":0},{"x":-1.18,"y":0},{"x":-1.1,"y":0},{"x":-1.02,"y":0},{"x":-0.94,"y":0},{"x":-0.86,"y":0},{"x":-0.79,"y":0},
{"x":0.24,"y":-0.86},{"x":0.24,"y":-0.79},{"x":0.24,"y":-0.71},{"x":0.24,"y":0.71},{"x":0.24,"y":0.79},{"x":0.24,"y":0.86},
{"x":0.31,"y":-1.49},{"x":0.31,"y":-1.41},{"x":0.31,"y":-1.34},{"x":0.31,"y":-1.26},{"x":0.31,"y":-1.18},{"x":0.31,"y":-1.1},{"x":0.31,"y":-1.02},{"x":0.31,"y":-0.94},{"x":0.31,"y":-0.86},{"x":0.31,"y":-0.79},{"x":0.31,"y":-0.71},{"x":0.31,"y":-0.63},{"x":0.31,"y":0.63},{"x":0.31,"y":0.71},{"x":0.31,"y":0.79},{"x":0.31,"y":0.86},{"x":0.31,"y":0.94},{"x":0.31,"y":1.02},{"x":0.31,"y":1.1},{"x":0.31,"y":1.18},{"x":0.31,"y":1.26},{"x":0.31,"y":1.34},{"x":0.31,"y":1.41},{"x":0.31,"y":1.49},
{"x":0.39,"y":-1.49},{"x":0.39,"y":-1.41},{"x":0.39,"y":-1.34},{"x":0.39,"y":-1.26},{"x":0.39,"y":-1.18},{"x":0.39,"y":-1.1},{"x":0.39,"y":-1.02},{"x":0.39,"y":-0.94},{"x":0.39,"y":-0.86},{"x":0.39,"y":-0.79},{"x":0.39,"y":-0.71},{"x":0.39,"y":-0.63},{"x":0.39,"y":0.63},{"x":0.39,"y":0.71},{"x":0.39,"y":0.79},{"x":0.39,"y":0.86},{"x":0.39,"y":0.94},{"x":0.39,"y":1.02},{"x":0.39,"y":1.1},{"x":0.39,"y":1.18},{"x":0.39,"y":1.26},{"x":0.39,"y":1.34},{"x":0.39,"y":1.41},{"x":0.39,"y":1.49},
{"x":0.47,"y":-1.49},{"x":0.47,"y":-1.41},{"x":0.47,"y":-1.34},{"x":0.47,"y":-1.26},{"x":0.47,"y":-1.18},{"x":0.47,"y":-1.1},{"x":0.47,"y":-1.02},{"x":0.47,"y":-0.94},{"x":0.47,"y":-0.86},{"x":0.47,"y":-0.79},{"x":0.47,"y":-0.71},{"x":0.47,"y":-0.63},{"x":0.47,"y":0.63},{"x":0.47,"y":0.71},{"x":0.47,"y":0.79},{"x":0.47,"y":0.86},{"x":0.47,"y":0.94},{"x":0.47,"y":1.02},{"x":0.47,"y":1.1},{"x":0.47,"y":1.18},{"x":0.47,"y":1.26},{"x":0.47,"y":1.34},{"x":0.47,"y":1.41},{"x":0.47,"y":1.49},
{"x":0.55,"y":-1.49},{"x":0.55,"y":-1.41},{"x":0.55,"y":-1.34},{"x":0.55,"y":-1.26},{"x":0.55,"y":-1.18},{"x":0.55,"y":-1.1},{"x":0.55,"y":-1.02},{"x":0.55,"y":-0.94},{"x":0.55,"y":-0.86},{"x":0.55,"y":-0.79},{"x":0.55,"y":-0.71},{"x":0.55,"y":-0.63},{"x":0.55,"y":-0.55},{"x":0.55,"y":0.55},{"x":0.55,"y":0.63},{"x":0.55,"y":0.71},{"x":0.55,"y":0.79},{"x":0.55,"y":0.86},{"x":0.55,"y":0.94},{"x":0.55,"y":1.02},{"x":0.55,"y":1.1},{"x":0.55,"y":1.18},{"x":0.55,"y":1.26},{"x":0.55,"y":1.34},{"x":0.55,"y":1.41},{"x":0.55,"y":1.49},
{"x":0.63,"y":-1.49},{"x":0.63,"y":-1.41},{"x":0.63,"y":-1.34},{"x":0.63,"y":-1.26},{"x":0.63,"y":-1.18},{"x":0.63,"y":-1.1},{"x":0.63,"y":-1.02},{"x":0.63,"y":-0.94},{"x":0.63,"y":-0.86},{"x":0.63,"y":-0.79},{"x":0.63,"y":-0.71},{"x":0.63,"y":-0.63},{"x":0.63,"y":-0.55},{"x":0.63,"y":-0.47},{"x":0.63,"y":0.47},{"x":0.63,"y":0.55},{"x":0.63,"y":0.63},{"x":0.63,"y":0.71},{"x":0.63,"y":0.79},{"x":0.63,"y":0.86},{"x":0.63,"y":0.94},{"x":0.63,"y":1.02},{"x":0.63,"y":1.1},{"x":0.63,"y":1.18},{"x":0.63,"y":1.26},{"x":0.63,"y":1.34},{"x":0.63,"y":1.41},{"x":0.63,"y":1.49},
{"x":0.71,"y":-0.79},{"x":0.71,"y":-0.71},{"x":0.71,"y":-0.63},{"x":0.71,"y":-0.55},{"x":0.71,"y":-0.47},{"x":0.71,"y":-0.39},{"x":0.71,"y":0.39},{"x":0.71,"y":0.47},{"x":0.71,"y":0.55},{"x":0.71,"y":0.63},{"x":0.71,"y":0.71},{"x":0.71,"y":0.79},
{"x":0.79,"y":-0.55},{"x":0.79,"y":-0.47},{"x":0.79,"y":-0.39},{"x":0.79,"y":-0.31},{"x":0.79,"y":-0.24},{"x":0.79,"y":-0.16},{"x":0.79,"y":-0.08},{"x":0.79,"y":0},{"x":0.79,"y":0.08},{"x":0.79,"y":0.16},{"x":0.79,"y":0.24},{"x":0.79,"y":0.31},{"x":0.79,"y":0.39},{"x":0.79,"y":0.47},{"x":0.79,"y":0.55},
{"x":0.86,"y":-0.39},{"x":0.86,"y":-0.31},{"x":0.86,"y":-0.24},{"x":0.86,"y":-0.16},{"x":0.86,"y":-0.08},{"x":0.86,"y":0},{"x":0.86,"y":0.08},{"x":0.86,"y":0.16},{"x":0.86,"y":0.24},{"x":0.86,"y":0.31},{"x":0.86,"y":0.39},
{"x":0.94,"y":-0.31},{"x":0.94,"y":-0.24},{"x":0.94,"y":-0.16},{"x":0.94,"y":-0.08},{"x":0.94,"y":0},{"x":0.94,"y":0.08},{"x":0.94,"y":0.16},{"x":0.94,"y":0.24},{"x":0.94,"y":0.31},
{"x":1.02,"y":-0.24},{"x":1.02,"y":-0.16},{"x":1.02,"y":-0.08},{"x":1.02,"y":0},{"x":1.02,"y":0.08},{"x":1.02,"y":0.16},{"x":1.02,"y":0.24},
{"x":1.1,"y":-0.24},{"x":1.1,"y":-0.16},{"x":1.1,"y":-0.08},{"x":1.1,"y":0},{"x":1.1,"y":0.08},{"x":1.1,"y":0.16},{"x":1.1,"y":0.24},
{"x":1.18,"y":-0.16},{"x":1.18,"y":-0.08},{"x":1.18,"y":0},{"x":1.18,"y":0.08},{"x":1.18,"y":0.16},
{"x":1.26,"y":-0.16},{"x":1.26,"y":-0.08},{"x":1.26,"y":0},{"x":1.26,"y":0.08},{"x":1.26,"y":0.16},
{"x":1.34,"y":-0.08},{"x":1.34,"y":0},{"x":1.34,"y":0.08},{"x":1.41,"y":-0.08},{"x":1.41,"y":0},{"x":1.41,"y":0.08},{"x":1.49,"y":-0.08},{"x":1.49,"y":0},{"x":1.49,"y":0.08}]
},
"columns":3,
"spacing":{"row":46,"column":65},
"bounds":"flush",
"concat":[
{"width":321,"height":225,"resolve":{"axis":{"x":"independent","y":"independent"}},"layer":[
{"data":{"name":"e"},"mark":{"type":"circle","color":"black","size":85,"opacity":1,"clip":true},"encoding":{"x":{"field":"x","type":"quantitative","scale":{"domain":[-1.5708,1.5708]},"axis":{"orient":"bottom","title":null,"values":[-1.5,-1,-0.5,0,0.5,1,1.5],"labelPadding":25,"labelExpr":"abs(datum.value % 1) < 0.01 ? '' + datum.value : ''","labelFontSize":{"condition":{"test":"abs(datum.value % 1) > 0.01","value":0},"value":25},"tickDash":{"condition":{"test":"abs(datum.value % 1) > 0.01","value":[11,40]},"value":[40,0]}}},"y":{"field":"y","type":"quantitative","scale":{"domain":[-1.5708,1.5708]},"axis":{"orient":"left","title":null,"values":[-1.5,-1,-0.5,0,0.5,1,1.5],"labelPadding":31,"labelExpr":"abs(datum.value % 1) < 0.01 ? '' + datum.value : ''","labelFontSize":{"condition":{"test":"abs(datum.value % 1) > 0.01","value":0},"value":25},"tickDash":{"condition":{"test":"abs(datum.value % 1) > 0.01","value":[11,40]},"value":[40,0]}}}}},
{"data":{"name":"e"},"mark":{"type":"circle","color":"red","size":28,"opacity":1,"clip":true},"encoding":{"x":{"field":"x","type":"quantitative","scale":{"domain":[-1.5708,1.5708]},"axis":{"orient":"top","title":null,"labels":false,"values":[-1.5,-1,-0.5,0,0.5,1,1.5],"tickDash":{"condition":{"test":"abs(datum.value % 1) > 0.01","value":[11,40]},"value":[40,0]}}},"y":{"field":"y","type":"quantitative","scale":{"domain":[-1.5708,1.5708]},"axis":{"orient":"right","title":null,"labels":false,"values":[-1.5,-1,-0.5,0,0.5,1,1.5],"tickDash":{"condition":{"test":"abs(datum.value % 1) > 0.01","value":[11,40]},"value":[40,0]}}}}},
{"data":{"values":[{"x":-1.19,"y":0.85,"s":"μ = 0 GeV"}]},"mark":{"type":"text","align":"left","baseline":"alphabetic","font":"Liberation Serif","fontSize":29,"color":"black"},"encoding":{"x":{"field":"x","type":"quantitative","scale":{"domain":[-1.5708,1.5708]},"axis":null},"y":{"field":"y","type":"quantitative","scale":{"domain":[-1.5708,1.5708]},"axis":null},"text":{"field":"s"}}}]},
{"width":321,"height":225,"resolve":{"axis":{"x":"independent","y":"independent"}},"layer":[
{"data":{"name":"b100"},"mark":{"type":"circle","color":"black","size":85,"opacity":1,"clip":true},"encoding":{"x":{"field":"x","type":"quantitative","scale":{"domain":[-1.5708,1.5708]},"axis":{"orient":"bottom","title":null,"values":[-1.5,-1,-0.5,0,0.5,1,1.5],"labelPadding":25,"labelExpr":"abs(datum.value % 1) < 0.01 ? '' + datum.value : ''","labelFontSize":{"condition":{"test":"abs(datum.value % 1) > 0.01","value":0},"value":25},"tickDash":{"condition":{"test":"abs(datum.value % 1) > 0.01","value":[11,40]},"value":[40,0]}}},"y":{"field":"y","type":"quantitative","scale":{"domain":[-1.5708,1.5708]},"axis":{"orient":"left","title":null,"values":[-1.5,-1,-0.5,0,0.5,1,1.5],"labelPadding":31,"labelExpr":"abs(datum.value % 1) < 0.01 ? '' + datum.value : ''","labelFontSize":{"condition":{"test":"abs(datum.value % 1) > 0.01","value":0},"value":25},"tickDash":{"condition":{"test":"abs(datum.value % 1) > 0.01","value":[11,40]},"value":[40,0]}}}}},
{"data":{"name":"r100"},"mark":{"type":"circle","color":"red","size":28,"opacity":1,"clip":true},"encoding":{"x":{"field":"x","type":"quantitative","scale":{"domain":[-1.5708,1.5708]},"axis":{"orient":"top","title":null,"labels":false,"values":[-1.5,-1,-0.5,0,0.5,1,1.5],"tickDash":{"condition":{"test":"abs(datum.value % 1) > 0.01","value":[11,40]},"value":[40,0]}}},"y":{"field":"y","type":"quantitative","scale":{"domain":[-1.5708,1.5708]},"axis":{"orient":"right","title":null,"labels":false,"values":[-1.5,-1,-0.5,0,0.5,1,1.5],"tickDash":{"condition":{"test":"abs(datum.value % 1) > 0.01","value":[11,40]},"value":[40,0]}}}}},
{"data":{"values":[{"x":-1.16,"y":0.83,"s":"μ = 100 GeV"}]},"mark":{"type":"text","align":"left","baseline":"alphabetic","font":"Liberation Serif","fontSize":29,"color":"black"},"encoding":{"x":{"field":"x","type":"quantitative","scale":{"domain":[-1.5708,1.5708]},"axis":null},"y":{"field":"y","type":"quantitative","scale":{"domain":[-1.5708,1.5708]},"axis":null},"text":{"field":"s"}}}]},
{"width":321,"height":225,"resolve":{"axis":{"x":"independent","y":"independent"}},"layer":[
{"data":{"name":"b120"},"mark":{"type":"circle","color":"black","size":85,"opacity":1,"clip":true},"encoding":{"x":{"field":"x","type":"quantitative","scale":{"domain":[-1.5708,1.5708]},"axis":{"orient":"bottom","title":null,"values":[-1.5,-1,-0.5,0,0.5,1,1.5],"labelPadding":25,"labelExpr":"abs(datum.value % 1) < 0.01 ? '' + datum.value : ''","labelFontSize":{"condition":{"test":"abs(datum.value % 1) > 0.01","value":0},"value":25},"tickDash":{"condition":{"test":"abs(datum.value % 1) > 0.01","value":[11,40]},"value":[40,0]}}},"y":{"field":"y","type":"quantitative","scale":{"domain":[-1.5708,1.5708]},"axis":{"orient":"left","title":null,"values":[-1.5,-1,-0.5,0,0.5,1,1.5],"labelPadding":31,"labelExpr":"abs(datum.value % 1) < 0.01 ? '' + datum.value : ''","labelFontSize":{"condition":{"test":"abs(datum.value % 1) > 0.01","value":0},"value":25},"tickDash":{"condition":{"test":"abs(datum.value % 1) > 0.01","value":[11,40]},"value":[40,0]}}}}},
{"data":{"name":"r120"},"mark":{"type":"circle","color":"red","size":28,"opacity":1,"clip":true},"encoding":{"x":{"field":"x","type":"quantitative","scale":{"domain":[-1.5708,1.5708]},"axis":{"orient":"top","title":null,"labels":false,"values":[-1.5,-1,-0.5,0,0.5,1,1.5],"tickDash":{"condition":{"test":"abs(datum.value % 1) > 0.01","value":[11,40]},"value":[40,0]}}},"y":{"field":"y","type":"quantitative","scale":{"domain":[-1.5708,1.5708]},"axis":{"orient":"right","title":null,"labels":false,"values":[-1.5,-1,-0.5,0,0.5,1,1.5],"tickDash":{"condition":{"test":"abs(datum.value % 1) > 0.01","value":[11,40]},"value":[40,0]}}}}},
{"data":{"values":[{"x":-1.17,"y":0.83,"s":"μ = 120 GeV"}]},"mark":{"type":"text","align":"left","baseline":"alphabetic","font":"Liberation Serif","fontSize":29,"color":"black"},"encoding":{"x":{"field":"x","type":"quantitative","scale":{"domain":[-1.5708,1.5708]},"axis":null},"y":{"field":"y","type":"quantitative","scale":{"domain":[-1.5708,1.5708]},"axis":null},"text":{"field":"s"}}}]},
{"width":321,"height":225,"resolve":{"axis":{"x":"independent","y":"independent"}},"layer":[
{"data":{"name":"b140"},"mark":{"type":"circle","color":"black","size":85,"opacity":1,"clip":true},"encoding":{"x":{"field":"x","type":"quantitative","scale":{"domain":[-1.5708,1.5708]},"axis":{"orient":"bottom","title":null,"values":[-1.5,-1,-0.5,0,0.5,1,1.5],"labelPadding":25,"labelExpr":"abs(datum.value % 1) < 0.01 ? '' + datum.value : ''","labelFontSize":{"condition":{"test":"abs(datum.value % 1) > 0.01","value":0},"value":25},"tickDash":{"condition":{"test":"abs(datum.value % 1) > 0.01","value":[11,40]},"value":[40,0]}}},"y":{"field":"y","type":"quantitative","scale":{"domain":[-1.5708,1.5708]},"axis":{"orient":"left","title":null,"values":[-1.5,-1,-0.5,0,0.5,1,1.5],"labelPadding":31,"labelExpr":"abs(datum.value % 1) < 0.01 ? '' + datum.value : ''","labelFontSize":{"condition":{"test":"abs(datum.value % 1) > 0.01","value":0},"value":25},"tickDash":{"condition":{"test":"abs(datum.value % 1) > 0.01","value":[11,40]},"value":[40,0]}}}}},
{"data":{"name":"r140"},"mark":{"type":"circle","color":"red","size":28,"opacity":1,"clip":true},"encoding":{"x":{"field":"x","type":"quantitative","scale":{"domain":[-1.5708,1.5708]},"axis":{"orient":"top","title":null,"labels":false,"values":[-1.5,-1,-0.5,0,0.5,1,1.5],"tickDash":{"condition":{"test":"abs(datum.value % 1) > 0.01","value":[11,40]},"value":[40,0]}}},"y":{"field":"y","type":"quantitative","scale":{"domain":[-1.5708,1.5708]},"axis":{"orient":"right","title":null,"labels":false,"values":[-1.5,-1,-0.5,0,0.5,1,1.5],"tickDash":{"condition":{"test":"abs(datum.value % 1) > 0.01","value":[11,40]},"value":[40,0]}}}}},
{"data":{"values":[{"x":-1.47,"y":0.63,"s":"μ = 140 GeV"}]},"mark":{"type":"text","align":"left","baseline":"alphabetic","font":"Liberation Serif","fontSize":29,"color":"black"},"encoding":{"x":{"field":"x","type":"quantitative","scale":{"domain":[-1.5708,1.5708]},"axis":null},"y":{"field":"y","type":"quantitative","scale":{"domain":[-1.5708,1.5708]},"axis":null},"text":{"field":"s"}}}]},
{"width":321,"height":225,"resolve":{"axis":{"x":"independent","y":"independent"}},"layer":[
{"data":{"name":"b160"},"mark":{"type":"circle","color":"black","size":85,"opacity":1,"clip":true},"encoding":{"x":{"field":"x","type":"quantitative","scale":{"domain":[-1.5708,1.5708]},"axis":{"orient":"bottom","title":null,"values":[-1.5,-1,-0.5,0,0.5,1,1.5],"labelPadding":25,"labelExpr":"abs(datum.value % 1) < 0.01 ? '' + datum.value : ''","labelFontSize":{"condition":{"test":"abs(datum.value % 1) > 0.01","value":0},"value":25},"tickDash":{"condition":{"test":"abs(datum.value % 1) > 0.01","value":[11,40]},"value":[40,0]}}},"y":{"field":"y","type":"quantitative","scale":{"domain":[-1.5708,1.5708]},"axis":{"orient":"left","title":null,"values":[-1.5,-1,-0.5,0,0.5,1,1.5],"labelPadding":31,"labelExpr":"abs(datum.value % 1) < 0.01 ? '' + datum.value : ''","labelFontSize":{"condition":{"test":"abs(datum.value % 1) > 0.01","value":0},"value":25},"tickDash":{"condition":{"test":"abs(datum.value % 1) > 0.01","value":[11,40]},"value":[40,0]}}}}},
{"data":{"name":"r160"},"mark":{"type":"circle","color":"red","size":28,"opacity":1,"clip":true},"encoding":{"x":{"field":"x","type":"quantitative","scale":{"domain":[-1.5708,1.5708]},"axis":{"orient":"top","title":null,"labels":false,"values":[-1.5,-1,-0.5,0,0.5,1,1.5],"tickDash":{"condition":{"test":"abs(datum.value % 1) > 0.01","value":[11,40]},"value":[40,0]}}},"y":{"field":"y","type":"quantitative","scale":{"domain":[-1.5708,1.5708]},"axis":{"orient":"right","title":null,"labels":false,"values":[-1.5,-1,-0.5,0,0.5,1,1.5],"tickDash":{"condition":{"test":"abs(datum.value % 1) > 0.01","value":[11,40]},"value":[40,0]}}}}},
{"data":{"values":[{"x":-1.54,"y":0.65,"s":"μ = 160 GeV"}]},"mark":{"type":"text","align":"left","baseline":"alphabetic","font":"Liberation Serif","fontSize":29,"color":"black"},"encoding":{"x":{"field":"x","type":"quantitative","scale":{"domain":[-1.5708,1.5708]},"axis":null},"y":{"field":"y","type":"quantitative","scale":{"domain":[-1.5708,1.5708]},"axis":null},"text":{"field":"s"}}}]},
{"width":321,"height":225,"resolve":{"axis":{"x":"independent","y":"independent"}},"layer":[
{"data":{"name":"b180"},"mark":{"type":"circle","color":"black","size":85,"opacity":1,"clip":true},"encoding":{"x":{"field":"x","type":"quantitative","scale":{"domain":[-1.5708,1.5708]},"axis":{"orient":"bottom","title":null,"values":[-1.5,-1,-0.5,0,0.5,1,1.5],"labelPadding":25,"labelExpr":"abs(datum.value % 1) < 0.01 ? '' + datum.value : ''","labelFontSize":{"condition":{"test":"abs(datum.value % 1) > 0.01","value":0},"value":25},"tickDash":{"condition":{"test":"abs(datum.value % 1) > 0.01","value":[11,40]},"value":[40,0]}}},"y":{"field":"y","type":"quantitative","scale":{"domain":[-1.5708,1.5708]},"axis":{"orient":"left","title":null,"values":[-1.5,-1,-0.5,0,0.5,1,1.5],"labelPadding":31,"labelExpr":"abs(datum.value % 1) < 0.01 ? '' + datum.value : ''","labelFontSize":{"condition":{"test":"abs(datum.value % 1) > 0.01","value":0},"value":25},"tickDash":{"condition":{"test":"abs(datum.value % 1) > 0.01","value":[11,40]},"value":[40,0]}}}}},
{"data":{"name":"r180"},"mark":{"type":"circle","color":"red","size":28,"opacity":1,"clip":true},"encoding":{"x":{"field":"x","type":"quantitative","scale":{"domain":[-1.5708,1.5708]},"axis":{"orient":"top","title":null,"labels":false,"values":[-1.5,-1,-0.5,0,0.5,1,1.5],"tickDash":{"condition":{"test":"abs(datum.value % 1) > 0.01","value":[11,40]},"value":[40,0]}}},"y":{"field":"y","type":"quantitative","scale":{"domain":[-1.5708,1.5708]},"axis":{"orient":"right","title":null,"labels":false,"values":[-1.5,-1,-0.5,0,0.5,1,1.5],"tickDash":{"condition":{"test":"abs(datum.value % 1) > 0.01","value":[11,40]},"value":[40,0]}}}}},
{"data":{"values":[{"x":-1.47,"y":0.67,"s":"μ = 180 GeV"}]},"mark":{"type":"text","align":"left","baseline":"alphabetic","font":"Liberation Serif","fontSize":29,"color":"black"},"encoding":{"x":{"field":"x","type":"quantitative","scale":{"domain":[-1.5708,1.5708]},"axis":null},"y":{"field":"y","type":"quantitative","scale":{"domain":[-1.5708,1.5708]},"axis":null},"text":{"field":"s"}}}]},
{"width":321,"height":225,"resolve":{"axis":{"x":"independent","y":"independent"}},"layer":[
{"data":{"name":"b200"},"mark":{"type":"circle","color":"black","size":85,"opacity":1,"clip":true},"encoding":{"x":{"field":"x","type":"quantitative","scale":{"domain":[-1.5708,1.5708]},"axis":{"orient":"bottom","title":null,"values":[-1.5,-1,-0.5,0,0.5,1,1.5],"labelPadding":25,"labelExpr":"abs(datum.value % 1) < 0.01 ? '' + datum.value : ''","labelFontSize":{"condition":{"test":"abs(datum.value % 1) > 0.01","value":0},"value":25},"tickDash":{"condition":{"test":"abs(datum.value % 1) > 0.01","value":[11,40]},"value":[40,0]}}},"y":{"field":"y","type":"quantitative","scale":{"domain":[-1.5708,1.5708]},"axis":{"orient":"left","title":null,"values":[-1.5,-1,-0.5,0,0.5,1,1.5],"labelPadding":31,"labelExpr":"abs(datum.value % 1) < 0.01 ? '' + datum.value : ''","labelFontSize":{"condition":{"test":"abs(datum.value % 1) > 0.01","value":0},"value":25},"tickDash":{"condition":{"test":"abs(datum.value % 1) > 0.01","value":[11,40]},"value":[40,0]}}}}},
{"data":{"name":"r200"},"mark":{"type":"circle","color":"red","size":28,"opacity":1,"clip":true},"encoding":{"x":{"field":"x","type":"quantitative","scale":{"domain":[-1.5708,1.5708]},"axis":{"orient":"top","title":null,"labels":false,"values":[-1.5,-1,-0.5,0,0.5,1,1.5],"tickDash":{"condition":{"test":"abs(datum.value % 1) > 0.01","value":[11,40]},"value":[40,0]}}},"y":{"field":"y","type":"quantitative","scale":{"domain":[-1.5708,1.5708]},"axis":{"orient":"right","title":null,"labels":false,"values":[-1.5,-1,-0.5,0,0.5,1,1.5],"tickDash":{"condition":{"test":"abs(datum.value % 1) > 0.01","value":[11,40]},"value":[40,0]}}}}},
{"data":{"values":[{"x":-1.38,"y":-0.5,"s":"μ = 200 GeV"}]},"mark":{"type":"text","align":"left","baseline":"alphabetic","font":"Liberation Serif","fontSize":29,"color":"black"},"encoding":{"x":{"field":"x","type":"quantitative","scale":{"domain":[-1.5708,1.5708]},"axis":null},"y":{"field":"y","type":"quantitative","scale":{"domain":[-1.5708,1.5708]},"axis":null},"text":{"field":"s"}}}]},
{"width":321,"height":225,"resolve":{"axis":{"x":"independent","y":"independent"}},"layer":[
{"data":{"name":"b220"},"mark":{"type":"circle","color":"black","size":85,"opacity":1,"clip":true},"encoding":{"x":{"field":"x","type":"quantitative","scale":{"domain":[-1.5708,1.5708]},"axis":{"orient":"bottom","title":null,"values":[-1.5,-1,-0.5,0,0.5,1,1.5],"labelPadding":25,"labelExpr":"abs(datum.value % 1) < 0.01 ? '' + datum.value : ''","labelFontSize":{"condition":{"test":"abs(datum.value % 1) > 0.01","value":0},"value":25},"tickDash":{"condition":{"test":"abs(datum.value % 1) > 0.01","value":[11,40]},"value":[40,0]}}},"y":{"field":"y","type":"quantitative","scale":{"domain":[-1.5708,1.5708]},"axis":{"orient":"left","title":null,"values":[-1.5,-1,-0.5,0,0.5,1,1.5],"labelPadding":31,"labelExpr":"abs(datum.value % 1) < 0.01 ? '' + datum.value : ''","labelFontSize":{"condition":{"test":"abs(datum.value % 1) > 0.01","value":0},"value":25},"tickDash":{"condition":{"test":"abs(datum.value % 1) > 0.01","value":[11,40]},"value":[40,0]}}}}},
{"data":{"name":"r220"},"mark":{"type":"circle","color":"red","size":28,"opacity":1,"clip":true},"encoding":{"x":{"field":"x","type":"quantitative","scale":{"domain":[-1.5708,1.5708]},"axis":{"orient":"top","title":null,"labels":false,"values":[-1.5,-1,-0.5,0,0.5,1,1.5],"tickDash":{"condition":{"test":"abs(datum.value % 1) > 0.01","value":[11,40]},"value":[40,0]}}},"y":{"field":"y","type":"quantitative","scale":{"domain":[-1.5708,1.5708]},"axis":{"orient":"right","title":null,"labels":false,"values":[-1.5,-1,-0.5,0,0.5,1,1.5],"tickDash":{"condition":{"test":"abs(datum.value % 1) > 0.01","value":[11,40]},"value":[40,0]}}}}},
{"data":{"values":[{"x":-1.3,"y":-0.44,"s":"μ = 220 GeV"}]},"mark":{"type":"text","align":"left","baseline":"alphabetic","font":"Liberation Serif","fontSize":29,"color":"black"},"encoding":{"x":{"field":"x","type":"quantitative","scale":{"domain":[-1.5708,1.5708]},"axis":null},"y":{"field":"y","type":"quantitative","scale":{"domain":[-1.5708,1.5708]},"axis":null},"text":{"field":"s"}}}]},
{"width":321,"height":225,"resolve":{"axis":{"x":"independent","y":"independent"}},"layer":[
{"data":{"name":"e"},"mark":{"type":"circle","color":"black","size":85,"opacity":1,"clip":true},"encoding":{"x":{"field":"x","type":"quantitative","scale":{"domain":[-1.5708,1.5708]},"axis":{"orient":"bottom","title":null,"values":[-1.5,-1,-0.5,0,0.5,1,1.5],"labelPadding":25,"labelExpr":"abs(datum.value % 1) < 0.01 ? '' + datum.value : ''","labelFontSize":{"condition":{"test":"abs(datum.value % 1) > 0.01","value":0},"value":25},"tickDash":{"condition":{"test":"abs(datum.value % 1) > 0.01","value":[11,40]},"value":[40,0]}}},"y":{"field":"y","type":"quantitative","scale":{"domain":[-1.5708,1.5708]},"axis":{"orient":"left","title":null,"values":[-1.5,-1,-0.5,0,0.5,1,1.5],"labelPadding":31,"labelExpr":"abs(datum.value % 1) < 0.01 ? '' + datum.value : ''","labelFontSize":{"condition":{"test":"abs(datum.value % 1) > 0.01","value":0},"value":25},"tickDash":{"condition":{"test":"abs(datum.value % 1) > 0.01","value":[11,40]},"value":[40,0]}}}}},
{"data":{"name":"e"},"mark":{"type":"circle","color":"red","size":28,"opacity":1,"clip":true},"encoding":{"x":{"field":"x","type":"quantitative","scale":{"domain":[-1.5708,1.5708]},"axis":{"orient":"top","title":null,"labels":false,"values":[-1.5,-1,-0.5,0,0.5,1,1.5],"tickDash":{"condition":{"test":"abs(datum.value % 1) > 0.01","value":[11,40]},"value":[40,0]}}},"y":{"field":"y","type":"quantitative","scale":{"domain":[-1.5708,1.5708]},"axis":{"orient":"right","title":null,"labels":false,"values":[-1.5,-1,-0.5,0,0.5,1,1.5],"tickDash":{"condition":{"test":"abs(datum.value % 1) > 0.01","value":[11,40]},"value":[40,0]}}}}},
{"data":{"values":[{"x":-1.24,"y":-0.47,"s":"μ = 400 GeV"}]},"mark":{"type":"text","align":"left","baseline":"alphabetic","font":"Liberation Serif","fontSize":29,"color":"black"},"encoding":{"x":{"field":"x","type":"quantitative","scale":{"domain":[-1.5708,1.5708]},"axis":null},"y":{"field":"y","type":"quantitative","scale":{"domain":[-1.5708,1.5708]},"axis":null},"text":{"field":"s"}}}]}
]
}
